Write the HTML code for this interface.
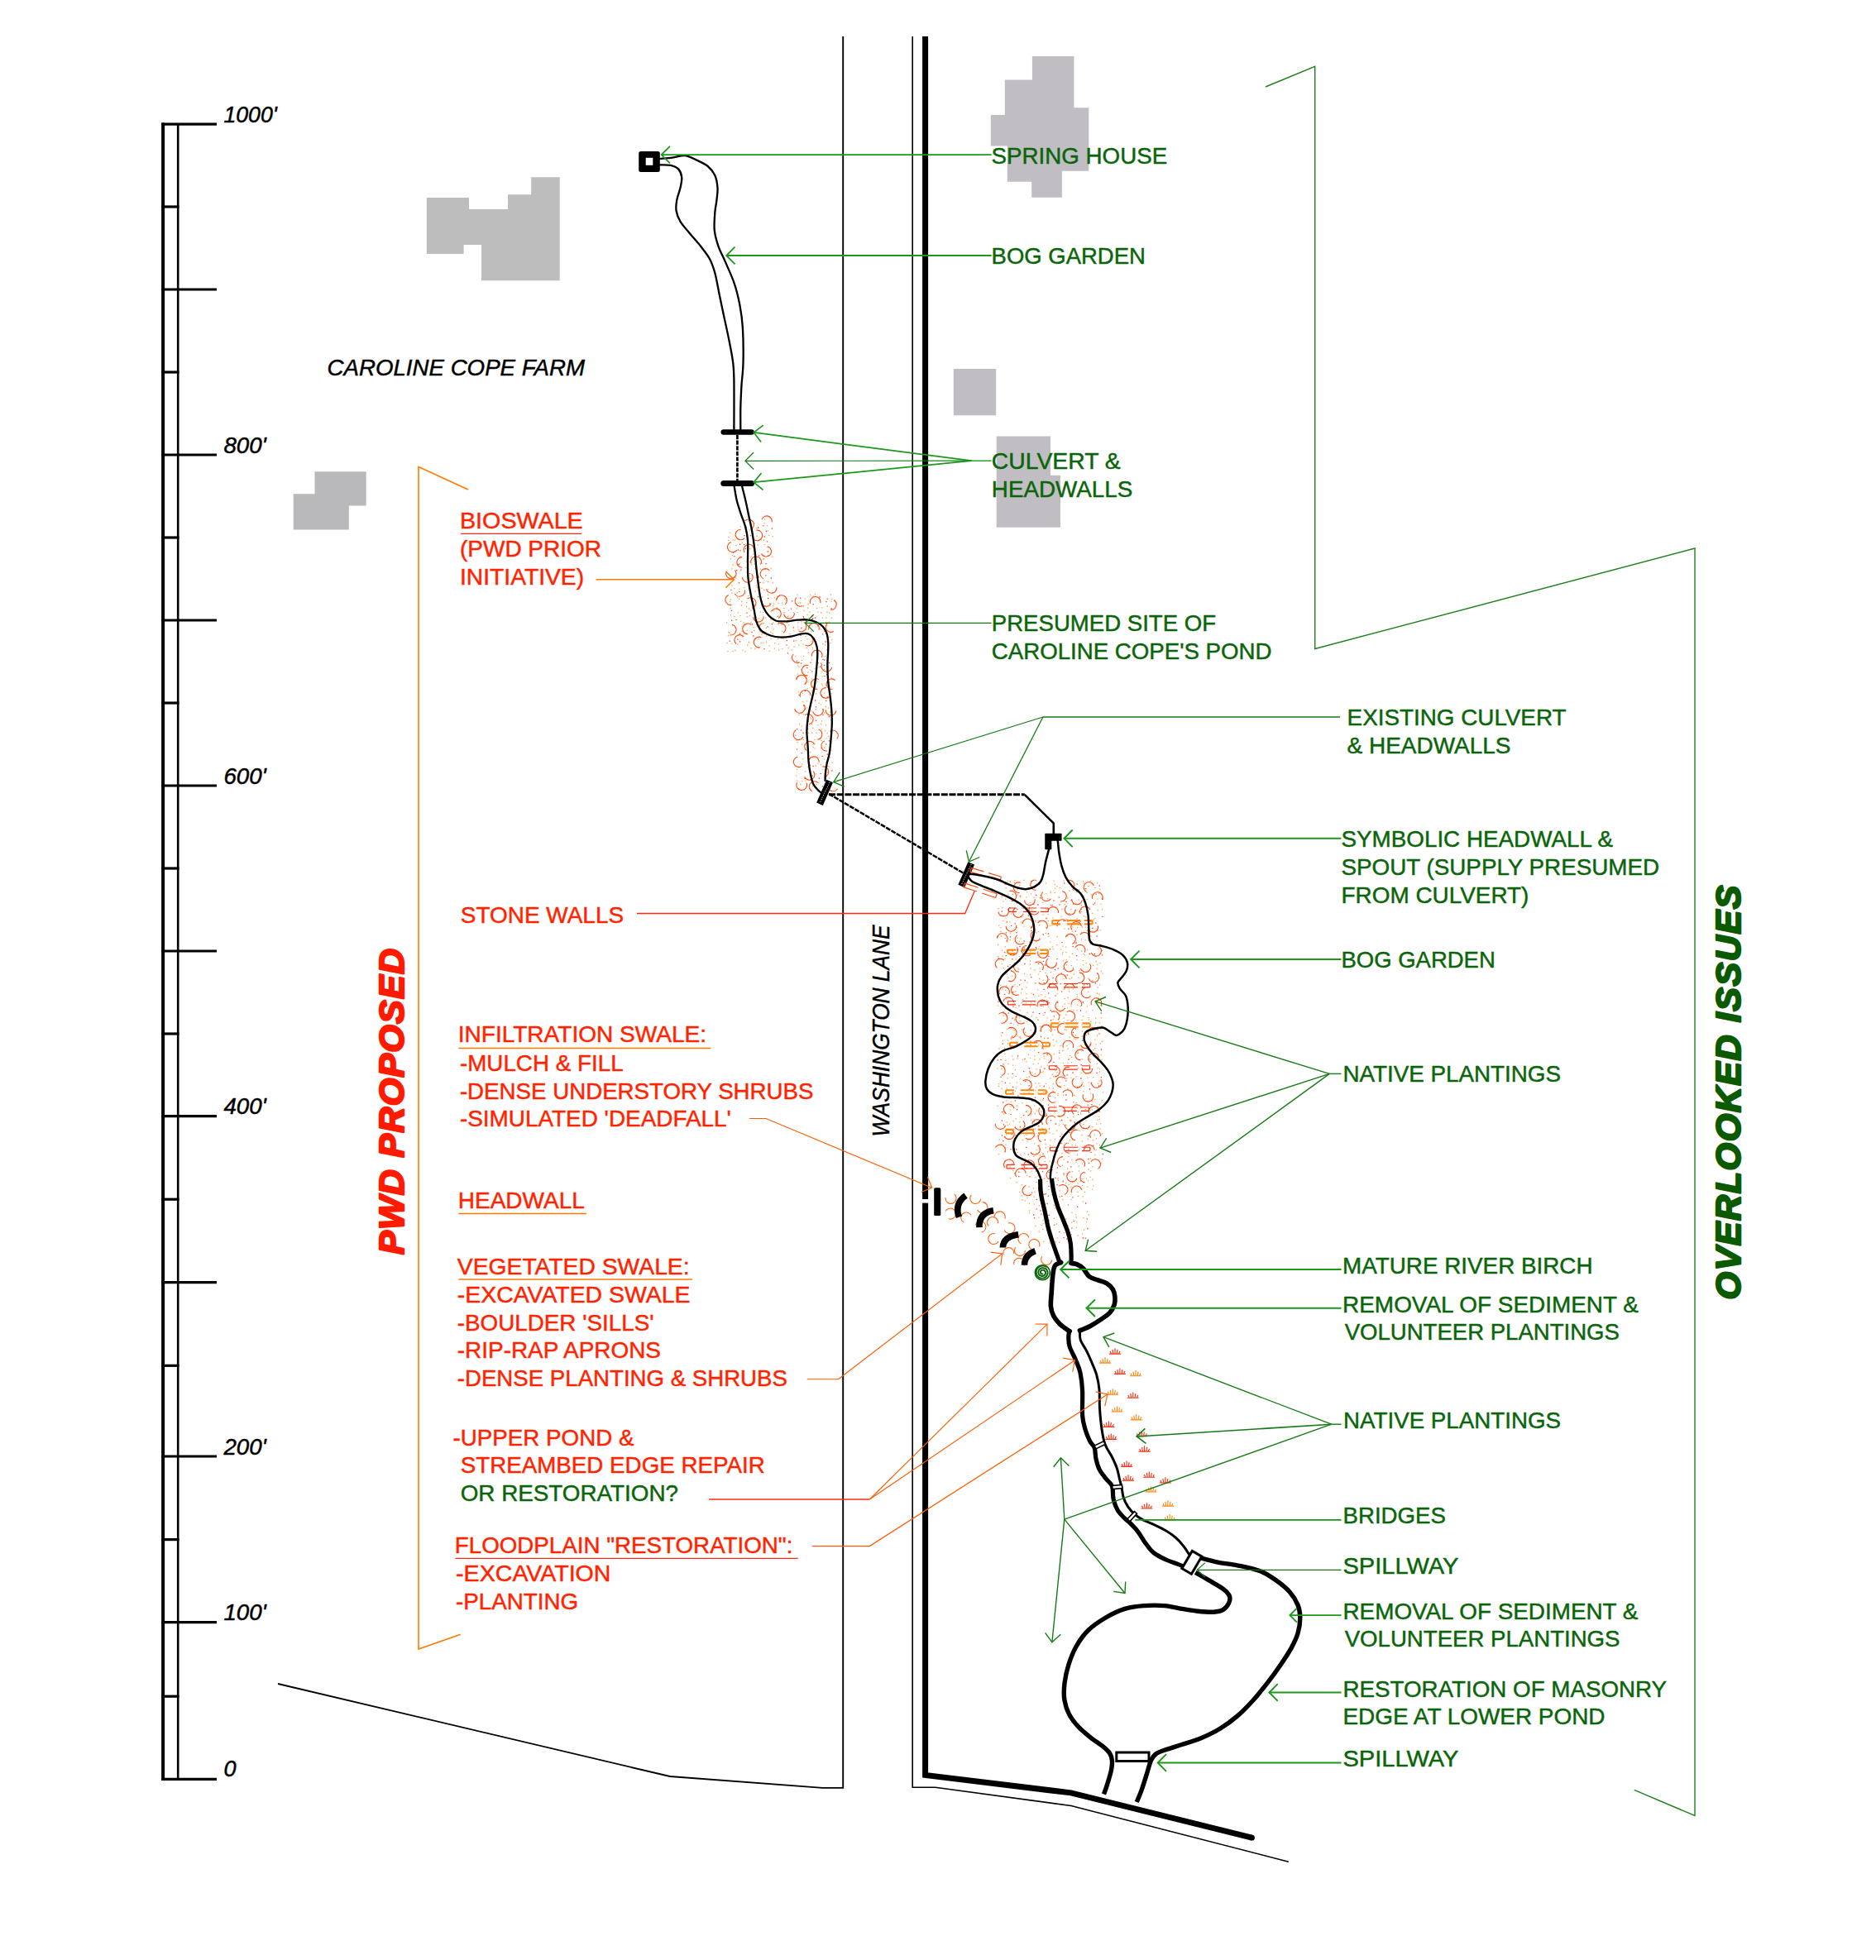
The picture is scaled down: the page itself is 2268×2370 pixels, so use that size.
<!DOCTYPE html>
<html><head><meta charset="utf-8"><title>Plan</title>
<style>html,body{margin:0;padding:0;background:#fff}svg{display:block}text{font-family:"Liberation Sans",sans-serif}</style>
</head><body>
<svg width="2268" height="2370" viewBox="0 0 2268 2370">
<rect width="2268" height="2370" fill="#fff"/>
<polygon points="1247.9,67.9 1298.4,67.9 1298.4,130.2 1316.3,130.2 1316.3,206.7 1283.9,206.7 1283.9,238.7 1247.2,238.7 1247.2,219.7 1217.8,219.7 1217.8,176.4 1197.8,176.4 1197.8,138.9 1214.8,138.9 1214.8,96.5 1247.9,96.5" fill="#c1bec3"/>
<polygon points="1152.8,446.1 1204.2,446.1 1204.2,502.3 1152.8,502.3" fill="#c1bec3"/>
<polygon points="1204.7,527.4 1270.0,527.4 1270.0,574.8 1282.0,574.8 1282.0,637.7 1204.7,637.7" fill="#c1bec3"/>
<polygon points="515.8,239.1 567.0,239.1 567.0,252.9 614.0,252.9 614.0,235.3 642.2,235.3 642.2,214.2 676.7,214.2 676.7,339.2 582.0,339.2 582.0,296.1 560.6,296.1 560.6,306.9 515.8,306.9" fill="#bdbdbd"/>
<polygon points="380.5,570.2 442.7,570.2 442.7,611.6 421.8,611.6 421.8,640.5 354.7,640.5 354.7,597.3 380.5,597.3" fill="#b9b9bb"/>
<!--HATCH-->
<!--REST-->
<path d="M924.2,628.1h1.3M911.3,632.6h1.3M923.5,632.5h1.3M894.7,636.8h1.3M901.7,637.5h1.3M914.0,638.8h1.3M926.9,635.7h1.3M882.1,644.4h1.3M902.3,644.3h1.3M905.8,640.8h1.3M927.8,641.7h1.3M880.3,649.6h1.3M914.2,648.1h1.3M929.0,647.3h1.3M933.4,648.7h1.3M880.1,653.3h1.3M885.3,652.8h1.3M887.3,653.3h1.3M896.5,656.4h1.3M919.5,652.9h1.3M922.8,653.0h1.3M881.7,661.9h1.3M889.2,659.4h1.3M911.2,660.2h1.3M915.6,659.0h1.3M923.8,658.7h1.3M927.4,661.7h1.3M906.0,663.7h1.3M910.9,666.3h1.3M884.9,671.6h1.3M894.0,672.7h1.3M903.1,671.6h1.3M907.4,672.9h1.3M910.2,669.9h1.3M922.5,672.4h1.3M928.3,671.7h1.3M933.2,673.5h1.3M882.7,675.6h1.3M901.8,679.2h1.3M906.0,679.7h1.3M885.6,683.0h1.3M907.7,682.6h1.3M911.6,682.2h1.3M920.1,681.2h1.3M884.4,687.8h1.3M901.3,686.4h1.3M912.1,687.4h1.3M918.9,687.8h1.3M924.4,688.3h1.3M931.3,687.4h1.3M902.0,692.2h1.3M916.1,696.6h1.3M888.9,698.9h1.3M907.0,699.3h1.3M913.6,698.1h1.3M916.7,698.0h1.3M884.4,708.2h1.3M905.9,707.6h1.3M913.5,707.9h1.3M922.2,704.6h1.3M927.9,703.5h1.3M933.5,704.9h1.3M887.1,711.7h1.3M893.1,712.1h1.3M899.1,710.5h1.3M914.4,710.0h1.3M920.2,711.4h1.3M923.1,713.4h1.3M927.7,712.9h1.3M884.3,717.1h1.3M890.7,717.0h1.3M900.5,717.2h1.3M912.3,715.1h1.3M927.8,719.5h1.3M942.1,719.3h1.3M963.5,719.2h1.3M979.0,719.3h1.3M984.7,718.6h1.3M1003.8,719.0h1.3M882.6,725.3h1.3M890.7,722.6h1.3M892.9,724.4h1.3M903.1,723.3h1.3M904.1,720.7h1.3M921.2,722.2h1.3M935.6,722.8h1.3M939.5,721.2h1.3M948.2,724.3h1.3M949.8,723.6h1.3M972.8,724.2h1.3M982.7,721.2h1.3M1005.1,724.1h1.3M881.8,727.3h1.3M896.1,727.5h1.3M902.2,728.7h1.3M909.9,727.4h1.3M920.0,729.8h1.3M929.9,729.5h1.3M934.9,730.2h1.3M940.4,729.7h1.3M945.0,729.2h1.3M950.4,726.3h1.3M964.4,729.2h1.3M967.1,729.0h1.3M976.4,730.5h1.3M1004.6,727.2h1.3M882.7,735.3h1.3M895.7,732.0h1.3M902.1,733.6h1.3M905.1,736.0h1.3M910.6,731.9h1.3M920.2,731.9h1.3M925.0,732.8h1.3M934.0,732.9h1.3M938.8,735.0h1.3M947.3,735.7h1.3M962.4,736.2h1.3M971.0,733.0h1.3M976.1,735.5h1.3M987.1,735.5h1.3M993.3,734.7h1.3M999.5,733.0h1.3M891.7,741.1h1.3M907.2,738.1h1.3M918.8,740.0h1.3M921.9,740.5h1.3M931.3,739.7h1.3M934.6,738.7h1.3M947.3,740.7h1.3M952.7,738.1h1.3M958.8,740.6h1.3M963.3,740.6h1.3M971.3,738.5h1.3M978.4,740.2h1.3M988.4,740.1h1.3M992.2,741.0h1.3M999.3,740.1h1.3M1002.0,740.9h1.3M883.0,743.6h1.3M887.1,745.3h1.3M894.4,744.6h1.3M902.9,745.8h1.3M906.0,744.3h1.3M913.7,746.3h1.3M916.6,747.9h1.3M925.1,747.2h1.3M934.3,747.4h1.3M947.5,744.6h1.3M952.0,745.4h1.3M975.5,743.4h1.3M993.9,747.1h1.3M998.2,747.1h1.3M1004.8,747.3h1.3M878.1,752.6h1.3M895.1,751.4h1.3M898.4,753.0h1.3M907.3,753.0h1.3M914.4,749.4h1.3M915.6,751.9h1.3M922.8,753.7h1.3M931.2,749.2h1.3M934.2,753.1h1.3M940.8,752.7h1.3M951.1,753.0h1.3M964.2,752.8h1.3M968.2,751.8h1.3M984.8,753.4h1.3M993.4,753.4h1.3M998.3,752.3h1.3M1002.0,752.2h1.3M896.5,757.4h1.3M900.4,756.2h1.3M910.4,758.6h1.3M917.6,754.8h1.3M925.7,759.4h1.3M953.2,755.6h1.3M964.1,758.1h1.3M988.0,757.0h1.3M999.1,756.4h1.3M880.1,764.2h1.3M881.6,765.1h1.3M896.7,763.3h1.3M902.7,762.2h1.3M911.1,762.4h1.3M925.1,764.6h1.3M931.0,764.3h1.3M934.3,760.8h1.3M945.1,763.3h1.3M959.2,762.6h1.3M964.8,761.5h1.3M971.0,762.9h1.3M973.4,761.3h1.3M979.9,763.1h1.3M991.4,760.9h1.3M996.0,763.3h1.3M879.8,768.4h1.3M898.8,766.3h1.3M920.1,767.3h1.3M925.8,769.3h1.3M933.7,766.3h1.3M944.2,769.9h1.3M954.4,766.4h1.3M959.9,769.3h1.3M964.7,766.6h1.3M973.2,769.4h1.3M999.8,770.1h1.3M1002.6,770.1h1.3M904.6,776.5h1.3M913.0,772.8h1.3M916.7,772.8h1.3M926.0,776.2h1.3M931.2,772.1h1.3M939.9,772.5h1.3M946.5,772.7h1.3M961.5,774.7h1.3M967.8,774.7h1.3M975.3,772.8h1.3M980.2,775.3h1.3M1005.0,773.6h1.3M878.5,777.5h1.3M883.8,778.1h1.3M891.2,779.0h1.3M903.0,779.9h1.3M910.9,778.4h1.3M919.4,777.6h1.3M922.1,777.6h1.3M929.4,780.9h1.3M936.0,777.7h1.3M940.7,778.8h1.3M959.4,782.0h1.3M965.1,780.0h1.3M970.5,779.1h1.3M994.1,778.7h1.3M997.0,780.0h1.3M1003.4,777.6h1.3M879.3,787.7h1.3M885.5,787.4h1.3M888.3,786.5h1.3M897.1,786.2h1.3M900.5,787.8h1.3M907.2,783.8h1.3M912.3,784.5h1.3M916.2,783.8h1.3M929.5,787.2h1.3M935.7,784.2h1.3M940.9,786.1h1.3M945.2,784.3h1.3M952.5,783.3h1.3M956.5,785.9h1.3M974.6,783.5h1.3M981.7,783.7h1.3M987.4,783.9h1.3M999.2,785.7h1.3M961.5,793.3h1.3M970.8,793.5h1.3M976.9,789.0h1.3M986.5,793.7h1.3M992.9,790.8h1.3M997.0,793.4h1.3M1001.5,790.7h1.3M968.8,798.4h1.3M981.0,797.8h1.3M986.6,795.9h1.3M964.0,804.9h1.3M974.0,804.5h1.3M965.3,806.6h1.3M968.1,809.7h1.3M979.0,810.1h1.3M984.4,808.7h1.3M995.9,809.4h1.3M963.8,815.1h1.3M970.1,813.4h1.3M976.2,813.1h1.3M993.2,812.1h1.3M962.3,819.9h1.3M973.2,820.1h1.3M980.8,821.1h1.3M993.6,817.9h1.3M1004.4,819.6h1.3M976.1,824.7h1.3M979.7,824.9h1.3M987.9,824.2h1.3M992.6,827.0h1.3M1002.4,825.9h1.3M975.5,832.7h1.3M981.1,830.2h1.3M986.2,831.9h1.3M993.8,828.9h1.3M997.4,829.2h1.3M1003.8,830.8h1.3M965.1,836.4h1.3M969.5,838.2h1.3M981.1,835.5h1.3M985.9,838.8h1.3M996.1,838.1h1.3M1004.3,838.5h1.3M1002.7,842.4h1.3M970.3,848.3h1.3M975.1,847.8h1.3M979.8,850.6h1.3M989.6,850.1h1.3M1002.4,847.4h1.3M975.1,855.8h1.3M979.2,853.2h1.3M991.6,851.8h1.3M997.7,854.5h1.3M1001.1,856.0h1.3M961.1,859.6h1.3M968.5,862.0h1.3M980.6,860.0h1.3M985.7,858.0h1.3M994.0,858.1h1.3M996.5,862.0h1.3M1002.7,861.1h1.3M965.0,864.4h1.3M971.1,863.8h1.3M979.2,867.2h1.3M979.5,869.0h1.3M992.9,871.8h1.3M1004.4,870.6h1.3M965.9,875.5h1.3M968.6,877.8h1.3M975.4,877.7h1.3M980.8,875.5h1.3M988.3,876.7h1.3M991.9,875.5h1.3M997.8,876.9h1.3M982.2,880.5h1.3M992.6,881.9h1.3M997.1,883.5h1.3M1004.1,884.0h1.3M961.3,889.1h1.3M976.4,886.3h1.3M980.9,886.1h1.3M986.2,886.1h1.3M999.5,886.5h1.3M1001.0,890.5h1.3M962.4,895.3h1.3M970.7,894.3h1.3M974.6,895.7h1.3M984.2,894.4h1.3M992.3,895.3h1.3M998.5,892.9h1.3M963.7,897.6h1.3M968.9,900.5h1.3M982.7,899.7h1.3M982.4,903.5h1.3M984.5,905.1h1.3M992.0,904.7h1.3M996.3,903.5h1.3M1003.4,907.2h1.3M976.0,911.9h1.3M978.9,909.6h1.3M963.3,915.4h1.3M970.1,917.7h1.3M982.2,916.2h1.3M987.9,915.9h1.3M995.8,918.2h1.3M1003.2,915.9h1.3M969.0,923.9h1.3M988.2,923.2h1.3M991.7,924.6h1.3M998.3,921.8h1.3M1005.4,922.4h1.3M962.9,930.3h1.3M968.1,926.5h1.3M976.3,927.4h1.3M985.4,926.0h1.3M994.2,930.3h1.3M999.8,926.6h1.3M1001.5,926.9h1.3M973.0,932.9h1.3M985.8,935.9h1.3M999.5,934.0h1.3M962.1,938.2h1.3M971.5,941.0h1.3M998.3,938.7h1.3M1002.0,940.9h1.3M963.0,944.2h1.3M969.3,944.9h1.3M973.4,944.1h1.3M998.8,945.8h1.3M967.4,948.6h1.3M982.0,950.7h1.3M986.5,948.8h1.3M1003.8,949.1h1.3M971.3,955.3h1.3M979.5,954.9h1.3M996.1,956.7h1.3" stroke="#ffa040" stroke-width="1.3" fill="none"/>
<path d="M916.0,638.0h1.3M922.2,635.8h1.3M932.7,639.2h1.3M925.8,642.5h1.3M899.4,647.6h1.3M906.9,647.6h1.3M923.6,649.0h1.3M927.0,654.8h1.3M894.0,658.4h1.3M898.9,658.6h1.3M885.9,668.2h1.3M891.6,665.0h1.3M894.5,665.8h1.3M900.8,663.5h1.3M927.6,667.0h1.3M887.3,672.7h1.3M917.0,671.9h1.3M911.9,676.2h1.3M922.4,676.2h1.3M891.8,682.8h1.3M893.1,682.2h1.3M925.3,681.6h1.3M890.1,689.7h1.3M895.2,689.1h1.3M905.9,693.6h1.3M925.1,695.9h1.3M931.6,699.0h1.3M892.9,704.8h1.3M918.5,704.4h1.3M883.2,713.3h1.3M893.2,715.4h1.3M916.1,721.6h1.3M928.0,723.3h1.3M967.0,723.1h1.3M990.4,722.0h1.3M999.6,724.3h1.3M957.1,726.9h1.3M982.6,730.7h1.3M998.3,727.6h1.3M955.8,736.2h1.3M1004.4,735.9h1.3M883.8,738.4h1.3M902.2,741.1h1.3M939.5,745.3h1.3M981.3,744.5h1.3M985.0,747.0h1.3M884.0,750.3h1.3M889.4,749.3h1.3M980.8,749.2h1.3M908.6,755.0h1.3M927.4,757.8h1.3M932.7,754.7h1.3M944.6,754.8h1.3M958.8,758.8h1.3M968.0,759.3h1.3M978.6,756.2h1.3M992.4,756.8h1.3M908.4,764.3h1.3M893.9,766.3h1.3M910.1,769.0h1.3M967.4,768.4h1.3M993.9,766.8h1.3M881.6,775.2h1.3M891.2,773.1h1.3M894.0,775.8h1.3M950.7,774.5h1.3M959.1,775.2h1.3M997.6,776.0h1.3M950.4,780.2h1.3M923.2,784.6h1.3M951.8,789.8h1.3M962.8,799.4h1.3M994.4,797.4h1.3M996.1,798.2h1.3M968.0,802.2h1.3M979.4,801.1h1.3M988.6,801.7h1.3M992.2,802.2h1.3M995.9,804.3h1.3M1001.9,801.7h1.3M975.2,807.5h1.3M991.0,806.3h1.3M981.1,811.9h1.3M998.9,815.7h1.3M996.3,817.7h1.3M999.8,825.5h1.3M972.8,835.6h1.3M965.7,840.3h1.3M981.5,842.1h1.3M992.5,840.6h1.3M999.6,843.0h1.3M985.1,847.0h1.3M998.0,847.4h1.3M971.0,853.2h1.3M985.8,854.9h1.3M972.9,857.4h1.3M994.4,864.4h1.3M1001.7,866.5h1.3M976.7,872.2h1.3M985.9,871.4h1.3M962.9,881.7h1.3M967.8,882.8h1.3M975.9,881.4h1.3M970.5,886.4h1.3M1001.7,895.9h1.3M998.2,899.8h1.3M962.9,906.1h1.3M976.7,905.2h1.3M968.8,910.6h1.3M999.7,912.2h1.3M993.4,914.3h1.3M982.4,926.5h1.3M991.5,935.3h1.3M1005.3,932.0h1.3M972.8,941.1h1.3M981.2,937.8h1.3M989.8,941.1h1.3M988.3,946.3h1.3M993.8,950.8h1.3M996.5,952.8h1.3M965.0,954.4h1.3" stroke="#ff3a10" stroke-width="1.3" fill="none"/>
<path d="M900.5,629.9A6.3,6.3 0 1 1 907.7,640.0M921.1,628.0A6.3,6.3 0 0 1 933.2,631.3M900.3,650.6A6.3,6.3 0 1 1 895.8,640.2M914.5,641.2A6.3,6.3 0 1 1 911.6,652.5M890.7,665.4A6.3,6.3 0 1 1 883.9,655.4M900.1,667.9A6.3,6.3 0 1 1 911.6,663.3M928.0,660.7A6.3,6.3 0 1 1 920.5,669.5M897.1,686.2A6.3,6.3 0 0 1 897.2,673.6M908.2,681.4A6.3,6.3 0 1 1 919.4,682.6M888.5,689.3A6.3,6.3 0 1 1 877.5,692.5M908.6,693.9A6.3,6.3 0 1 1 897.5,698.0M923.0,699.7A6.3,6.3 0 1 1 930.2,689.7M900.2,713.5A6.3,6.3 0 0 1 888.5,717.9M938.9,710.4A6.3,6.3 0 0 1 926.5,712.4M884.4,731.5A6.3,6.3 0 0 1 880.8,719.5M904.1,723.9A6.3,6.3 0 1 1 908.8,735.3M932.2,729.6A6.3,6.3 0 0 1 920.2,727.1M938.7,726.3A6.3,6.3 0 1 1 949.0,730.9M970.2,732.5A6.3,6.3 0 0 1 963.1,722.3M979.7,729.8A6.3,6.3 0 1 1 991.8,729.1M1008.0,725.4A6.3,6.3 0 0 1 1004.1,737.1M923.2,745.6A6.3,6.3 0 0 1 910.6,746.0M932.6,738.9A6.3,6.3 0 1 1 941.2,747.6M960.4,741.4A6.3,6.3 0 1 1 947.8,742.2M983.2,747.1A6.3,6.3 0 0 1 971.2,744.7M885.0,755.4A6.3,6.3 0 0 1 882.5,767.8M904.1,766.7A6.3,6.3 0 1 1 907.9,755.4M925.0,765.7A6.3,6.3 0 0 1 921.9,753.6M940.1,754.6A6.3,6.3 0 1 1 946.9,765.2M971.8,752.1A6.3,6.3 0 0 1 965.9,763.2M977.9,761.4A6.3,6.3 0 1 1 990.0,761.7M1007.8,763.5A6.3,6.3 0 0 1 1001.3,752.7M890.1,778.7A6.3,6.3 0 1 1 899.2,770.1M918.8,782.7A6.3,6.3 0 1 1 920.3,770.8M980.9,769.9A6.3,6.3 0 0 1 973.3,779.9M966.7,800.8A6.3,6.3 0 0 1 959.2,791.0M981.5,793.5A6.3,6.3 0 1 1 993.5,794.8M976.7,816.8A6.3,6.3 0 1 1 977.3,804.5M1005.6,807.1A6.3,6.3 0 1 1 993.7,803.2M962.7,822.1A6.3,6.3 0 1 1 972.6,827.7M988.1,833.3A6.3,6.3 0 1 1 989.9,821.6M1006.4,833.4A6.3,6.3 0 1 1 1009.8,822.6M967.5,842.6A6.3,6.3 0 1 1 979.8,841.2M1002.9,842.3A6.3,6.3 0 1 1 998.9,831.7M971.6,851.8A6.3,6.3 0 1 1 960.7,857.2M994.8,856.7A6.3,6.3 0 1 1 982.8,860.4M1010.9,859.3A6.3,6.3 0 0 1 998.3,858.2M973.2,864.6A6.3,6.3 0 1 1 977.9,876.0M971.1,891.1A6.3,6.3 0 1 1 962.4,882.8M989.5,882.0A6.3,6.3 0 0 1 988.3,894.2M1003.4,884.2A6.3,6.3 0 0 1 1011.8,893.4M974.9,907.4A6.3,6.3 0 1 1 984.8,900.1M1000.0,908.0A6.3,6.3 0 0 1 996.9,895.9M968.3,927.0A6.3,6.3 0 1 1 964.0,915.2M979.6,925.8A6.3,6.3 0 1 1 990.2,921.7M982.9,932.3A6.3,6.3 0 1 1 972.7,939.2M994.3,927.0A6.3,6.3 0 0 1 996.6,939.4M975.0,946.7A6.3,6.3 0 1 1 963.7,946.2M982.0,956.8A6.3,6.3 0 1 1 988.2,945.9M1012.6,953.8A6.3,6.3 0 0 1 1001.2,948.7" stroke="#ff4a10" stroke-width="1.1" fill="none"/>
<path d="M1217.8,1065.1h1.3M1226.1,1064.9h1.3M1237.3,1064.4h1.3M1273.6,1065.1h1.3M1285.5,1064.9h1.3M1308.9,1065.6h1.3M1318.1,1065.1h1.3M1214.6,1069.7h1.3M1225.9,1067.6h1.3M1232.3,1070.5h1.3M1252.7,1070.3h1.3M1257.0,1068.6h1.3M1264.0,1067.9h1.3M1274.7,1069.4h1.3M1277.2,1071.9h1.3M1309.9,1067.9h1.3M1315.2,1071.6h1.3M1319.5,1068.7h1.3M1325.8,1067.9h1.3M1215.5,1073.8h1.3M1229.5,1075.8h1.3M1243.8,1074.8h1.3M1250.0,1073.5h1.3M1269.2,1077.8h1.3M1274.9,1074.2h1.3M1280.7,1073.6h1.3M1292.2,1077.2h1.3M1303.7,1075.6h1.3M1323.4,1073.3h1.3M1329.0,1075.2h1.3M1207.2,1080.2h1.3M1210.6,1083.0h1.3M1218.2,1081.5h1.3M1223.7,1081.2h1.3M1229.6,1081.9h1.3M1241.2,1078.9h1.3M1245.9,1080.8h1.3M1257.5,1082.5h1.3M1264.4,1080.8h1.3M1269.8,1079.7h1.3M1274.5,1079.6h1.3M1289.0,1083.1h1.3M1300.5,1078.8h1.3M1309.5,1083.3h1.3M1313.6,1079.4h1.3M1318.6,1081.6h1.3M1328.0,1080.3h1.3M1210.8,1085.2h1.3M1215.0,1087.2h1.3M1223.1,1087.8h1.3M1233.2,1084.8h1.3M1240.1,1085.1h1.3M1249.4,1085.4h1.3M1260.0,1085.3h1.3M1266.2,1086.7h1.3M1285.8,1089.0h1.3M1290.1,1086.1h1.3M1303.6,1087.9h1.3M1309.6,1086.3h1.3M1313.6,1087.6h1.3M1326.1,1087.2h1.3M1212.1,1090.2h1.3M1228.5,1092.4h1.3M1234.0,1093.9h1.3M1245.1,1091.4h1.3M1259.9,1091.4h1.3M1269.7,1094.6h1.3M1286.6,1093.7h1.3M1300.4,1093.0h1.3M1306.9,1094.8h1.3M1330.5,1093.4h1.3M1206.4,1098.6h1.3M1211.2,1097.4h1.3M1234.9,1097.8h1.3M1247.1,1100.3h1.3M1264.4,1099.1h1.3M1266.6,1098.7h1.3M1283.1,1099.5h1.3M1294.2,1099.5h1.3M1300.0,1100.0h1.3M1313.3,1099.3h1.3M1326.8,1100.6h1.3M1331.9,1099.4h1.3M1222.3,1105.1h1.3M1231.3,1103.8h1.3M1241.1,1101.7h1.3M1245.9,1105.0h1.3M1254.5,1102.4h1.3M1260.4,1106.0h1.3M1266.5,1105.9h1.3M1303.9,1102.3h1.3M1307.1,1102.3h1.3M1313.3,1102.8h1.3M1320.3,1104.3h1.3M1215.4,1110.2h1.3M1234.3,1108.9h1.3M1272.5,1109.9h1.3M1282.5,1108.2h1.3M1288.6,1111.7h1.3M1301.4,1110.5h1.3M1309.9,1107.7h1.3M1311.6,1108.9h1.3M1321.4,1112.0h1.3M1323.1,1110.7h1.3M1212.1,1113.7h1.3M1220.0,1114.9h1.3M1233.4,1114.8h1.3M1255.5,1113.3h1.3M1266.5,1113.6h1.3M1290.5,1114.5h1.3M1297.2,1115.4h1.3M1301.6,1116.1h1.3M1207.0,1119.1h1.3M1209.2,1121.8h1.3M1228.7,1121.9h1.3M1237.3,1120.1h1.3M1246.0,1120.3h1.3M1256.0,1118.6h1.3M1263.8,1121.7h1.3M1268.7,1119.2h1.3M1271.0,1118.8h1.3M1286.2,1122.8h1.3M1296.3,1120.9h1.3M1302.0,1121.4h1.3M1307.6,1121.0h1.3M1311.8,1121.2h1.3M1326.7,1121.1h1.3M1209.3,1126.5h1.3M1220.8,1128.1h1.3M1252.0,1127.8h1.3M1255.2,1126.6h1.3M1263.7,1128.5h1.3M1295.9,1126.2h1.3M1307.0,1128.0h1.3M1313.9,1125.2h1.3M1319.5,1125.7h1.3M1326.7,1125.4h1.3M1329.5,1124.5h1.3M1209.8,1132.0h1.3M1214.6,1134.7h1.3M1229.2,1133.9h1.3M1233.4,1134.7h1.3M1246.5,1132.6h1.3M1256.0,1134.8h1.3M1267.1,1132.1h1.3M1277.5,1132.5h1.3M1289.8,1131.6h1.3M1301.3,1130.5h1.3M1318.3,1131.9h1.3M1217.3,1138.9h1.3M1220.6,1136.5h1.3M1226.6,1138.8h1.3M1231.9,1138.1h1.3M1244.0,1139.0h1.3M1251.9,1138.4h1.3M1269.2,1138.8h1.3M1306.8,1136.0h1.3M1311.5,1136.5h1.3M1206.1,1142.5h1.3M1214.7,1144.8h1.3M1237.8,1146.0h1.3M1255.6,1144.9h1.3M1271.9,1144.9h1.3M1277.2,1142.7h1.3M1284.2,1144.2h1.3M1288.1,1145.2h1.3M1317.5,1141.9h1.3M1329.9,1142.1h1.3M1210.9,1149.2h1.3M1233.8,1150.2h1.3M1245.1,1150.6h1.3M1255.1,1147.5h1.3M1261.0,1149.3h1.3M1272.6,1147.6h1.3M1281.5,1148.1h1.3M1284.4,1151.6h1.3M1288.4,1151.6h1.3M1301.8,1148.0h1.3M1307.2,1150.3h1.3M1313.7,1148.3h1.3M1327.0,1147.2h1.3M1332.0,1149.4h1.3M1206.0,1156.3h1.3M1211.5,1156.0h1.3M1231.7,1156.3h1.3M1255.7,1154.9h1.3M1283.7,1153.5h1.3M1292.6,1157.1h1.3M1295.8,1153.0h1.3M1309.6,1153.3h1.3M1311.0,1154.6h1.3M1212.8,1160.5h1.3M1214.5,1158.8h1.3M1227.5,1159.9h1.3M1232.4,1161.6h1.3M1239.2,1159.6h1.3M1244.9,1162.0h1.3M1284.6,1161.9h1.3M1288.6,1160.8h1.3M1301.4,1160.5h1.3M1308.8,1161.6h1.3M1324.5,1162.5h1.3M1210.6,1165.7h1.3M1220.4,1166.9h1.3M1244.6,1166.0h1.3M1266.7,1168.9h1.3M1288.8,1166.8h1.3M1294.7,1167.6h1.3M1309.1,1166.9h1.3M1312.7,1164.7h1.3M1321.1,1167.3h1.3M1326.0,1166.3h1.3M1329.5,1164.7h1.3M1212.6,1170.5h1.3M1230.1,1170.7h1.3M1231.2,1172.2h1.3M1245.3,1171.0h1.3M1250.1,1173.0h1.3M1256.8,1174.7h1.3M1259.7,1170.4h1.3M1285.0,1171.7h1.3M1296.7,1170.5h1.3M1304.2,1173.5h1.3M1314.9,1174.2h1.3M1325.3,1171.5h1.3M1330.7,1174.3h1.3M1217.0,1177.9h1.3M1223.1,1180.1h1.3M1237.9,1177.4h1.3M1245.0,1178.5h1.3M1255.1,1178.1h1.3M1263.5,1176.4h1.3M1269.8,1175.7h1.3M1297.6,1178.0h1.3M1309.1,1176.7h1.3M1332.4,1177.1h1.3M1206.7,1184.0h1.3M1218.3,1182.5h1.3M1226.9,1181.8h1.3M1255.9,1183.5h1.3M1260.8,1185.1h1.3M1267.9,1184.7h1.3M1285.5,1183.6h1.3M1292.6,1183.5h1.3M1295.0,1182.5h1.3M1303.2,1182.1h1.3M1315.2,1183.1h1.3M1320.2,1185.7h1.3M1324.8,1182.7h1.3M1209.0,1191.4h1.3M1216.0,1191.8h1.3M1226.4,1190.6h1.3M1241.5,1188.1h1.3M1256.4,1189.8h1.3M1269.8,1189.8h1.3M1272.2,1188.5h1.3M1299.8,1190.2h1.3M1318.9,1187.2h1.3M1328.9,1190.9h1.3M1211.2,1195.8h1.3M1214.9,1197.4h1.3M1229.4,1192.8h1.3M1240.2,1194.1h1.3M1253.9,1196.9h1.3M1277.7,1195.0h1.3M1285.6,1196.4h1.3M1291.6,1195.9h1.3M1296.7,1196.2h1.3M1301.1,1193.2h1.3M1314.5,1193.4h1.3M1326.8,1194.1h1.3M1207.2,1198.5h1.3M1227.2,1199.0h1.3M1233.9,1200.5h1.3M1240.5,1201.9h1.3M1246.3,1201.1h1.3M1258.3,1202.7h1.3M1277.6,1201.8h1.3M1291.9,1198.9h1.3M1301.8,1202.9h1.3M1315.2,1199.4h1.3M1325.9,1201.3h1.3M1328.5,1202.2h1.3M1208.5,1208.6h1.3M1216.3,1208.0h1.3M1219.8,1206.4h1.3M1235.6,1208.7h1.3M1240.3,1207.0h1.3M1255.2,1204.3h1.3M1263.2,1205.1h1.3M1268.5,1206.9h1.3M1286.4,1207.6h1.3M1290.5,1206.5h1.3M1301.5,1205.4h1.3M1317.6,1204.2h1.3M1322.9,1206.1h1.3M1330.3,1208.3h1.3M1225.9,1213.3h1.3M1234.8,1212.3h1.3M1239.9,1212.9h1.3M1246.1,1212.5h1.3M1250.2,1211.9h1.3M1255.8,1211.8h1.3M1260.0,1209.9h1.3M1286.7,1213.8h1.3M1291.5,1213.6h1.3M1303.6,1210.3h1.3M1326.8,1212.8h1.3M1206.1,1216.1h1.3M1211.1,1217.1h1.3M1214.9,1219.0h1.3M1227.4,1218.5h1.3M1245.0,1216.7h1.3M1252.0,1216.2h1.3M1260.6,1217.1h1.3M1267.2,1217.8h1.3M1277.9,1220.2h1.3M1284.2,1216.8h1.3M1289.8,1218.9h1.3M1294.8,1216.3h1.3M1302.1,1215.5h1.3M1305.5,1216.7h1.3M1313.5,1217.1h1.3M1226.0,1224.3h1.3M1232.5,1221.7h1.3M1241.5,1224.3h1.3M1273.5,1223.5h1.3M1281.0,1223.4h1.3M1282.5,1222.7h1.3M1291.9,1221.8h1.3M1297.1,1221.7h1.3M1301.5,1221.9h1.3M1312.7,1223.8h1.3M1320.4,1221.6h1.3M1212.5,1228.4h1.3M1229.1,1230.2h1.3M1231.8,1230.9h1.3M1238.4,1228.4h1.3M1246.7,1228.6h1.3M1252.3,1230.5h1.3M1261.1,1227.3h1.3M1265.5,1230.8h1.3M1281.1,1227.4h1.3M1285.5,1230.8h1.3M1288.3,1227.0h1.3M1308.8,1228.8h1.3M1315.5,1230.7h1.3M1324.0,1231.1h1.3M1330.7,1230.8h1.3M1214.7,1234.2h1.3M1226.0,1233.0h1.3M1232.4,1234.7h1.3M1240.8,1235.3h1.3M1272.3,1232.9h1.3M1279.9,1235.3h1.3M1285.9,1235.9h1.3M1290.3,1234.0h1.3M1307.5,1233.4h1.3M1315.6,1233.1h1.3M1318.3,1235.5h1.3M1323.9,1237.0h1.3M1328.8,1237.2h1.3M1229.9,1239.6h1.3M1257.3,1241.4h1.3M1281.1,1240.9h1.3M1287.1,1241.8h1.3M1294.8,1242.4h1.3M1307.3,1239.2h1.3M1313.0,1238.3h1.3M1217.3,1244.5h1.3M1224.4,1245.6h1.3M1226.2,1245.9h1.3M1234.9,1244.9h1.3M1239.0,1248.4h1.3M1245.7,1245.8h1.3M1251.8,1246.3h1.3M1256.8,1246.0h1.3M1268.0,1245.6h1.3M1274.5,1245.2h1.3M1278.6,1248.5h1.3M1286.6,1245.0h1.3M1288.4,1245.5h1.3M1307.7,1247.0h1.3M1312.9,1248.6h1.3M1322.3,1245.2h1.3M1330.4,1244.2h1.3M1210.2,1252.2h1.3M1229.4,1252.9h1.3M1238.4,1251.4h1.3M1246.8,1253.6h1.3M1271.6,1251.3h1.3M1292.6,1254.3h1.3M1294.9,1251.3h1.3M1299.8,1251.8h1.3M1307.6,1253.1h1.3M1312.5,1251.7h1.3M1325.8,1252.5h1.3M1211.8,1258.4h1.3M1218.0,1258.4h1.3M1221.6,1256.7h1.3M1228.4,1259.9h1.3M1233.5,1255.7h1.3M1239.1,1259.8h1.3M1262.0,1255.4h1.3M1272.6,1257.4h1.3M1276.8,1259.4h1.3M1298.1,1256.0h1.3M1300.1,1256.9h1.3M1323.1,1257.1h1.3M1331.9,1259.4h1.3M1217.8,1262.0h1.3M1222.8,1264.2h1.3M1232.3,1261.8h1.3M1250.9,1264.0h1.3M1255.1,1263.9h1.3M1264.1,1263.0h1.3M1273.6,1264.5h1.3M1281.4,1264.7h1.3M1289.2,1264.5h1.3M1304.3,1264.9h1.3M1307.6,1265.6h1.3M1311.0,1263.4h1.3M1324.4,1262.8h1.3M1329.9,1261.7h1.3M1207.3,1268.2h1.3M1214.0,1267.4h1.3M1245.1,1269.6h1.3M1250.0,1269.9h1.3M1260.7,1268.1h1.3M1280.1,1270.6h1.3M1284.1,1270.7h1.3M1290.4,1268.0h1.3M1302.3,1270.9h1.3M1307.4,1267.3h1.3M1314.4,1269.2h1.3M1321.2,1269.7h1.3M1323.1,1268.0h1.3M1206.0,1275.1h1.3M1214.3,1274.4h1.3M1223.3,1276.8h1.3M1242.6,1275.4h1.3M1250.2,1276.9h1.3M1261.5,1277.2h1.3M1273.8,1274.6h1.3M1292.8,1276.6h1.3M1330.7,1275.4h1.3M1215.2,1282.0h1.3M1224.3,1281.0h1.3M1229.5,1280.0h1.3M1235.8,1281.3h1.3M1244.9,1279.7h1.3M1250.4,1281.2h1.3M1256.3,1280.8h1.3M1262.0,1279.9h1.3M1280.0,1279.8h1.3M1295.0,1278.4h1.3M1307.5,1280.7h1.3M1315.4,1280.5h1.3M1317.5,1281.2h1.3M1331.4,1281.1h1.3M1218.3,1286.5h1.3M1224.1,1288.1h1.3M1240.2,1283.9h1.3M1248.7,1286.7h1.3M1254.6,1286.1h1.3M1265.7,1288.1h1.3M1284.8,1285.5h1.3M1290.3,1285.2h1.3M1294.9,1284.7h1.3M1316.8,1287.3h1.3M1325.5,1286.4h1.3M1205.3,1292.1h1.3M1210.1,1292.3h1.3M1226.8,1293.5h1.3M1252.4,1292.9h1.3M1258.1,1289.9h1.3M1275.3,1294.3h1.3M1277.2,1291.3h1.3M1287.0,1293.3h1.3M1302.6,1291.5h1.3M1326.6,1291.3h1.3M1328.9,1292.6h1.3M1218.5,1298.7h1.3M1247.1,1297.0h1.3M1250.8,1298.3h1.3M1258.5,1296.6h1.3M1260.3,1296.0h1.3M1271.7,1299.5h1.3M1277.4,1296.5h1.3M1284.5,1297.3h1.3M1306.6,1297.4h1.3M1312.2,1298.5h1.3M1318.0,1297.5h1.3M1328.7,1296.2h1.3M1217.3,1303.8h1.3M1222.9,1303.1h1.3M1227.5,1301.4h1.3M1232.9,1304.1h1.3M1240.9,1302.8h1.3M1243.7,1302.0h1.3M1269.5,1304.0h1.3M1273.0,1301.7h1.3M1277.3,1305.2h1.3M1283.8,1303.8h1.3M1289.1,1304.1h1.3M1294.2,1303.3h1.3M1300.5,1301.9h1.3M1314.3,1303.4h1.3M1321.1,1302.9h1.3M1207.1,1310.7h1.3M1211.0,1307.7h1.3M1220.5,1309.8h1.3M1228.6,1309.2h1.3M1233.4,1310.8h1.3M1251.5,1309.7h1.3M1255.3,1310.0h1.3M1263.6,1310.4h1.3M1272.6,1310.6h1.3M1280.6,1308.9h1.3M1308.5,1308.7h1.3M1315.5,1309.1h1.3M1318.6,1310.0h1.3M1326.8,1310.4h1.3M1328.5,1307.1h1.3M1206.8,1313.3h1.3M1210.6,1316.5h1.3M1216.5,1315.9h1.3M1227.7,1315.8h1.3M1252.3,1314.9h1.3M1256.4,1313.2h1.3M1267.8,1315.5h1.3M1272.5,1316.0h1.3M1279.6,1313.3h1.3M1286.3,1312.7h1.3M1290.3,1316.6h1.3M1297.5,1313.7h1.3M1309.2,1313.2h1.3M1226.9,1319.2h1.3M1232.7,1321.8h1.3M1237.2,1322.2h1.3M1243.6,1321.4h1.3M1251.0,1318.8h1.3M1254.0,1321.1h1.3M1261.2,1320.4h1.3M1265.7,1320.5h1.3M1272.2,1319.1h1.3M1278.4,1322.3h1.3M1291.1,1318.6h1.3M1309.4,1319.6h1.3M1317.8,1321.9h1.3M1332.6,1320.9h1.3M1210.7,1324.8h1.3M1218.1,1327.1h1.3M1222.5,1327.0h1.3M1232.3,1327.8h1.3M1240.6,1328.0h1.3M1275.0,1327.6h1.3M1278.3,1324.4h1.3M1285.1,1324.4h1.3M1298.1,1324.4h1.3M1312.1,1328.4h1.3M1216.3,1330.8h1.3M1221.9,1332.1h1.3M1235.2,1333.9h1.3M1250.6,1329.6h1.3M1257.2,1330.2h1.3M1260.0,1330.1h1.3M1275.0,1332.6h1.3M1297.0,1332.7h1.3M1300.5,1333.7h1.3M1314.6,1332.0h1.3M1320.2,1332.1h1.3M1323.3,1329.5h1.3M1331.5,1330.5h1.3M1205.4,1337.4h1.3M1217.3,1335.8h1.3M1221.4,1337.6h1.3M1228.9,1337.0h1.3M1250.2,1336.9h1.3M1274.1,1337.2h1.3M1286.0,1339.4h1.3M1296.9,1337.8h1.3M1301.5,1339.9h1.3M1305.6,1339.9h1.3M1326.7,1339.0h1.3M1328.8,1335.9h1.3M1214.5,1344.4h1.3M1220.7,1342.2h1.3M1245.6,1344.2h1.3M1252.5,1342.6h1.3M1258.3,1344.0h1.3M1262.0,1341.1h1.3M1266.9,1342.8h1.3M1274.6,1345.2h1.3M1277.3,1343.4h1.3M1302.7,1344.5h1.3M1305.8,1345.7h1.3M1311.8,1341.3h1.3M1319.8,1342.1h1.3M1325.4,1345.3h1.3M1212.5,1347.0h1.3M1233.8,1351.2h1.3M1246.4,1347.1h1.3M1250.7,1346.7h1.3M1255.8,1347.0h1.3M1271.5,1349.2h1.3M1280.1,1349.5h1.3M1290.1,1351.3h1.3M1297.4,1350.5h1.3M1306.1,1347.4h1.3M1311.0,1350.8h1.3M1328.2,1350.3h1.3M1216.7,1357.0h1.3M1224.3,1355.5h1.3M1227.6,1352.9h1.3M1231.9,1356.6h1.3M1245.9,1354.5h1.3M1249.7,1356.3h1.3M1255.5,1354.3h1.3M1281.1,1355.3h1.3M1292.8,1354.1h1.3M1302.6,1356.7h1.3M1312.6,1354.8h1.3M1326.1,1354.7h1.3M1328.6,1353.4h1.3M1217.6,1360.5h1.3M1219.9,1358.9h1.3M1238.3,1362.1h1.3M1279.7,1360.9h1.3M1284.9,1359.5h1.3M1288.3,1360.3h1.3M1295.9,1362.0h1.3M1309.1,1359.6h1.3M1319.8,1362.6h1.3M1325.2,1359.1h1.3M1330.2,1358.6h1.3M1216.1,1365.9h1.3M1223.4,1367.9h1.3M1226.4,1363.7h1.3M1232.7,1368.5h1.3M1240.4,1367.8h1.3M1244.6,1365.0h1.3M1250.7,1365.1h1.3M1257.3,1367.0h1.3M1259.7,1364.3h1.3M1277.0,1366.8h1.3M1291.4,1368.1h1.3M1304.1,1367.3h1.3M1309.0,1364.0h1.3M1314.3,1365.3h1.3M1324.1,1366.2h1.3M1329.3,1365.1h1.3M1215.9,1372.1h1.3M1227.0,1372.5h1.3M1232.4,1372.1h1.3M1240.4,1372.4h1.3M1249.9,1373.5h1.3M1253.9,1373.4h1.3M1262.0,1371.2h1.3M1268.3,1369.7h1.3M1272.4,1370.8h1.3M1283.2,1371.5h1.3M1295.3,1370.0h1.3M1307.2,1372.5h1.3M1322.6,1372.4h1.3M1331.8,1370.9h1.3M1207.4,1378.1h1.3M1218.8,1377.2h1.3M1223.2,1379.8h1.3M1235.8,1378.7h1.3M1241.2,1379.7h1.3M1269.3,1378.8h1.3M1274.9,1377.5h1.3M1280.2,1378.6h1.3M1284.2,1378.3h1.3M1292.6,1378.8h1.3M1295.9,1378.0h1.3M1307.9,1379.9h1.3M1314.5,1377.1h1.3M1320.8,1378.6h1.3M1324.8,1376.8h1.3M1210.1,1383.7h1.3M1215.4,1384.1h1.3M1249.9,1382.8h1.3M1255.9,1384.9h1.3M1263.4,1383.5h1.3M1269.0,1385.0h1.3M1290.7,1382.4h1.3M1295.5,1384.4h1.3M1299.7,1384.8h1.3M1310.9,1385.4h1.3M1325.3,1382.8h1.3M1328.6,1384.9h1.3M1214.8,1387.9h1.3M1252.6,1390.1h1.3M1256.4,1389.6h1.3M1263.6,1387.9h1.3M1269.9,1388.2h1.3M1277.6,1388.8h1.3M1303.7,1390.3h1.3M1311.3,1388.4h1.3M1318.0,1388.8h1.3M1324.8,1390.3h1.3M1207.1,1395.7h1.3M1214.6,1392.7h1.3M1229.6,1393.7h1.3M1233.3,1396.1h1.3M1238.0,1394.6h1.3M1252.3,1394.9h1.3M1256.9,1396.6h1.3M1266.0,1393.0h1.3M1273.2,1392.3h1.3M1277.1,1392.5h1.3M1283.2,1394.4h1.3M1292.3,1393.8h1.3M1301.8,1396.5h1.3M1323.0,1396.7h1.3M1220.1,1401.7h1.3M1238.6,1401.2h1.3M1249.1,1398.4h1.3M1254.4,1402.0h1.3M1263.1,1400.0h1.3M1272.6,1398.0h1.3M1285.4,1401.8h1.3M1291.3,1398.4h1.3M1295.3,1402.4h1.3M1301.9,1402.4h1.3M1317.7,1401.0h1.3M1332.0,1401.5h1.3M1223.3,1406.9h1.3M1241.3,1406.9h1.3M1245.9,1405.4h1.3M1248.9,1405.9h1.3M1254.9,1408.1h1.3M1262.7,1404.6h1.3M1268.3,1404.5h1.3M1274.0,1404.8h1.3M1277.0,1405.9h1.3M1300.4,1405.1h1.3M1307.7,1407.2h1.3M1217.3,1410.2h1.3M1220.5,1411.0h1.3M1225.5,1412.6h1.3M1235.1,1409.8h1.3M1246.2,1412.7h1.3M1252.8,1410.5h1.3M1255.2,1413.6h1.3M1269.1,1411.1h1.3M1283.8,1409.5h1.3M1290.0,1413.1h1.3M1303.6,1410.0h1.3M1315.5,1413.9h1.3M1320.3,1410.6h1.3M1223.9,1415.4h1.3M1246.1,1416.2h1.3M1251.6,1416.4h1.3M1255.0,1417.1h1.3M1277.2,1417.7h1.3M1289.1,1419.2h1.3M1295.7,1416.6h1.3M1303.9,1415.8h1.3M1311.4,1418.1h1.3M1318.0,1415.9h1.3M1220.8,1424.3h1.3M1241.0,1421.4h1.3M1251.4,1423.7h1.3M1254.4,1421.8h1.3M1262.0,1425.0h1.3M1268.3,1421.9h1.3M1278.4,1424.6h1.3M1285.5,1420.9h1.3M1295.1,1423.2h1.3M1308.5,1425.5h1.3M1312.7,1424.9h1.3M1317.4,1423.3h1.3M1228.5,1429.5h1.3M1252.5,1429.6h1.3M1265.4,1428.3h1.3M1278.7,1427.0h1.3M1288.1,1430.7h1.3M1296.1,1429.2h1.3M1302.6,1431.1h1.3M1314.8,1427.7h1.3M1320.4,1426.5h1.3M1234.8,1432.7h1.3M1239.4,1433.7h1.3M1243.3,1435.0h1.3M1248.7,1436.8h1.3M1254.8,1435.6h1.3M1284.5,1433.1h1.3M1291.4,1432.7h1.3M1294.2,1435.5h1.3M1307.6,1433.5h1.3M1314.1,1435.1h1.3M1321.0,1433.9h1.3M1232.2,1441.3h1.3M1250.3,1441.4h1.3M1258.6,1441.1h1.3M1266.8,1438.7h1.3M1280.6,1439.8h1.3M1289.6,1440.4h1.3M1302.2,1441.3h1.3M1307.1,1438.5h1.3M1311.0,1441.5h1.3M1320.0,1438.1h1.3M1234.7,1445.9h1.3M1241.3,1448.2h1.3M1249.4,1447.2h1.3M1271.3,1444.6h1.3M1280.4,1447.0h1.3M1303.0,1446.4h1.3M1308.8,1446.8h1.3M1235.2,1451.0h1.3M1238.6,1451.8h1.3M1257.0,1451.8h1.3M1277.4,1452.5h1.3M1284.2,1450.5h1.3M1294.5,1450.3h1.3M1308.6,1453.2h1.3M1243.9,1455.4h1.3M1249.5,1456.1h1.3M1255.6,1457.7h1.3M1262.4,1456.4h1.3M1273.6,1457.7h1.3M1279.6,1458.6h1.3M1290.7,1457.0h1.3M1243.9,1463.9h1.3M1262.5,1462.2h1.3M1275.2,1461.0h1.3M1282.8,1464.9h1.3M1313.7,1465.0h1.3M1243.9,1466.8h1.3M1281.2,1471.0h1.3M1295.4,1466.3h1.3M1300.0,1468.8h1.3M1315.6,1469.0h1.3M1255.3,1472.2h1.3M1260.2,1475.6h1.3M1273.6,1473.3h1.3M1288.3,1474.0h1.3M1300.5,1472.0h1.3M1309.5,1472.5h1.3M1251.1,1482.5h1.3M1258.6,1481.6h1.3M1260.5,1479.7h1.3M1276.9,1480.0h1.3M1290.5,1482.1h1.3M1295.0,1478.3h1.3M1301.4,1478.1h1.3M1312.8,1477.8h1.3M1260.3,1486.4h1.3M1269.1,1488.0h1.3M1300.7,1484.3h1.3M1310.0,1487.3h1.3M1255.6,1489.5h1.3M1271.2,1493.6h1.3M1285.9,1490.7h1.3M1292.0,1492.2h1.3M1294.7,1492.9h1.3M1302.5,1493.8h1.3M1308.0,1491.8h1.3M1271.9,1499.0h1.3M1277.7,1497.1h1.3M1261.0,1501.3h1.3M1267.8,1502.9h1.3M1275.7,1501.5h1.3M1280.0,1502.3h1.3M1292.2,1501.8h1.3" stroke="#ffa040" stroke-width="1.3" fill="none"/>
<path d="M1220.6,1066.1h1.3M1246.4,1065.4h1.3M1251.4,1064.3h1.3M1286.1,1067.9h1.3M1301.5,1068.9h1.3M1328.5,1071.2h1.3M1297.4,1076.2h1.3M1311.9,1074.6h1.3M1232.8,1083.3h1.3M1252.1,1082.5h1.3M1324.3,1081.2h1.3M1256.9,1085.9h1.3M1273.3,1088.9h1.3M1279.5,1085.1h1.3M1294.5,1088.5h1.3M1332.5,1087.0h1.3M1249.0,1093.4h1.3M1254.2,1094.0h1.3M1271.4,1094.5h1.3M1280.3,1094.2h1.3M1288.3,1090.4h1.3M1297.2,1093.1h1.3M1321.4,1093.5h1.3M1323.0,1091.8h1.3M1218.1,1100.2h1.3M1220.5,1097.6h1.3M1229.2,1099.6h1.3M1306.4,1099.3h1.3M1210.6,1102.1h1.3M1292.0,1104.8h1.3M1209.8,1107.3h1.3M1242.8,1107.2h1.3M1264.4,1110.5h1.3M1332.3,1108.4h1.3M1216.7,1114.9h1.3M1226.6,1116.9h1.3M1251.1,1113.8h1.3M1275.4,1116.3h1.3M1285.5,1113.7h1.3M1305.2,1114.0h1.3M1318.2,1114.2h1.3M1324.2,1116.2h1.3M1222.0,1119.3h1.3M1291.2,1123.1h1.3M1320.0,1122.3h1.3M1215.7,1127.9h1.3M1228.4,1127.6h1.3M1246.4,1125.4h1.3M1266.8,1129.0h1.3M1299.6,1126.2h1.3M1205.5,1132.4h1.3M1220.9,1132.8h1.3M1260.6,1130.0h1.3M1325.5,1132.1h1.3M1237.4,1138.0h1.3M1283.3,1139.7h1.3M1300.5,1140.0h1.3M1232.3,1144.7h1.3M1251.8,1145.6h1.3M1296.5,1144.3h1.3M1214.1,1151.6h1.3M1223.4,1149.8h1.3M1229.1,1148.6h1.3M1237.1,1150.2h1.3M1252.4,1147.3h1.3M1268.8,1147.6h1.3M1215.6,1155.7h1.3M1236.9,1156.3h1.3M1244.4,1155.2h1.3M1267.2,1156.4h1.3M1301.0,1155.6h1.3M1316.7,1153.5h1.3M1322.7,1153.7h1.3M1331.9,1154.8h1.3M1206.6,1158.7h1.3M1223.2,1159.8h1.3M1260.8,1162.4h1.3M1277.5,1159.7h1.3M1218.0,1168.3h1.3M1225.9,1164.9h1.3M1238.3,1165.5h1.3M1255.0,1165.4h1.3M1263.0,1167.0h1.3M1221.8,1173.7h1.3M1275.0,1172.7h1.3M1278.5,1171.2h1.3M1282.7,1177.2h1.3M1289.6,1179.0h1.3M1233.3,1185.2h1.3M1238.5,1185.5h1.3M1246.1,1181.7h1.3M1272.4,1182.7h1.3M1232.0,1190.8h1.3M1251.2,1188.8h1.3M1261.6,1188.7h1.3M1281.4,1189.7h1.3M1295.9,1189.6h1.3M1309.6,1190.9h1.3M1313.6,1190.1h1.3M1323.6,1189.1h1.3M1222.8,1193.2h1.3M1234.9,1196.2h1.3M1261.5,1196.4h1.3M1308.0,1193.5h1.3M1214.1,1202.4h1.3M1224.0,1199.7h1.3M1248.8,1202.7h1.3M1267.0,1200.8h1.3M1283.0,1199.1h1.3M1275.5,1204.1h1.3M1206.2,1211.2h1.3M1223.6,1214.5h1.3M1267.5,1212.6h1.3M1278.1,1212.0h1.3M1308.6,1212.0h1.3M1224.3,1217.1h1.3M1231.3,1216.1h1.3M1258.3,1216.3h1.3M1331.1,1216.0h1.3M1212.2,1224.0h1.3M1218.7,1224.8h1.3M1248.4,1224.1h1.3M1256.0,1225.7h1.3M1262.6,1224.4h1.3M1269.5,1221.7h1.3M1305.8,1222.0h1.3M1330.6,1225.0h1.3M1223.5,1231.1h1.3M1273.6,1228.9h1.3M1221.5,1237.4h1.3M1254.3,1233.2h1.3M1269.9,1233.7h1.3M1222.3,1242.9h1.3M1249.4,1240.1h1.3M1259.9,1241.6h1.3M1326.4,1242.5h1.3M1331.6,1241.2h1.3M1211.1,1248.7h1.3M1296.8,1248.5h1.3M1299.8,1244.2h1.3M1223.2,1253.1h1.3M1232.4,1254.1h1.3M1257.7,1253.5h1.3M1328.4,1250.2h1.3M1245.3,1259.2h1.3M1252.9,1259.2h1.3M1255.0,1258.6h1.3M1266.3,1255.4h1.3M1308.2,1258.4h1.3M1211.5,1262.2h1.3M1229.0,1262.1h1.3M1241.1,1264.2h1.3M1245.3,1263.6h1.3M1317.1,1263.4h1.3M1330.8,1269.0h1.3M1230.0,1276.8h1.3M1255.0,1272.7h1.3M1265.5,1275.0h1.3M1280.0,1273.1h1.3M1302.4,1273.1h1.3M1205.5,1281.9h1.3M1209.4,1281.3h1.3M1238.3,1280.5h1.3M1269.6,1282.7h1.3M1291.4,1281.0h1.3M1326.8,1281.9h1.3M1212.3,1286.8h1.3M1273.4,1284.3h1.3M1306.5,1287.6h1.3M1243.7,1291.6h1.3M1262.2,1292.0h1.3M1319.7,1292.7h1.3M1223.6,1298.3h1.3M1237.1,1295.6h1.3M1289.4,1299.9h1.3M1296.4,1297.0h1.3M1325.4,1297.4h1.3M1209.4,1302.2h1.3M1306.3,1304.0h1.3M1330.8,1302.7h1.3M1214.8,1309.4h1.3M1239.1,1307.7h1.3M1245.3,1307.8h1.3M1288.3,1306.8h1.3M1223.9,1314.3h1.3M1243.5,1312.7h1.3M1261.7,1313.5h1.3M1301.8,1314.9h1.3M1316.8,1317.0h1.3M1328.0,1313.0h1.3M1224.0,1320.8h1.3M1230.1,1324.8h1.3M1250.8,1327.1h1.3M1260.8,1328.4h1.3M1268.7,1325.3h1.3M1288.2,1324.0h1.3M1212.1,1333.2h1.3M1226.8,1330.8h1.3M1247.3,1331.0h1.3M1288.3,1330.0h1.3M1260.4,1337.0h1.3M1266.9,1336.1h1.3M1314.5,1336.1h1.3M1319.2,1335.6h1.3M1210.9,1344.7h1.3M1228.8,1341.6h1.3M1240.2,1344.2h1.3M1291.0,1344.0h1.3M1328.1,1343.9h1.3M1221.3,1347.6h1.3M1236.8,1348.6h1.3M1264.4,1346.8h1.3M1284.9,1348.4h1.3M1302.9,1347.6h1.3M1210.8,1355.2h1.3M1269.9,1354.8h1.3M1283.0,1354.5h1.3M1294.1,1355.2h1.3M1308.0,1354.6h1.3M1212.8,1359.9h1.3M1232.7,1362.5h1.3M1248.4,1360.3h1.3M1255.1,1361.5h1.3M1275.7,1359.0h1.3M1267.8,1364.8h1.3M1210.7,1372.9h1.3M1222.5,1371.6h1.3M1281.2,1374.1h1.3M1292.4,1369.7h1.3M1315.1,1373.6h1.3M1212.2,1379.7h1.3M1242.5,1377.6h1.3M1262.8,1378.3h1.3M1279.8,1382.9h1.3M1282.4,1382.5h1.3M1321.0,1385.1h1.3M1221.4,1389.7h1.3M1228.2,1390.0h1.3M1240.1,1387.3h1.3M1286.1,1387.1h1.3M1291.2,1389.8h1.3M1329.3,1387.7h1.3M1242.6,1396.1h1.3M1260.4,1395.3h1.3M1318.4,1393.4h1.3M1332.7,1395.5h1.3M1315.1,1401.5h1.3M1214.2,1404.2h1.3M1290.3,1405.0h1.3M1315.7,1406.3h1.3M1330.0,1406.3h1.3M1240.4,1412.7h1.3M1277.7,1411.8h1.3M1294.2,1410.9h1.3M1226.3,1418.9h1.3M1231.2,1417.1h1.3M1259.9,1416.7h1.3M1267.2,1417.7h1.3M1285.4,1419.2h1.3M1231.1,1422.6h1.3M1244.3,1422.9h1.3M1275.3,1424.4h1.3M1284.6,1428.5h1.3M1305.7,1427.8h1.3M1267.4,1434.3h1.3M1277.4,1432.7h1.3M1247.0,1442.2h1.3M1274.1,1438.3h1.3M1259.8,1447.5h1.3M1266.8,1446.2h1.3M1283.1,1446.4h1.3M1296.4,1447.9h1.3M1252.6,1450.3h1.3M1260.7,1452.1h1.3M1274.7,1451.3h1.3M1265.5,1455.5h1.3M1302.0,1459.4h1.3M1312.0,1455.0h1.3M1252.6,1461.8h1.3M1257.3,1463.9h1.3M1249.1,1469.0h1.3M1258.1,1468.1h1.3M1262.2,1466.4h1.3M1267.6,1469.3h1.3M1284.4,1470.1h1.3M1249.9,1472.9h1.3M1267.4,1475.8h1.3M1297.6,1476.7h1.3M1313.7,1473.9h1.3M1266.5,1480.0h1.3M1274.2,1481.1h1.3M1285.2,1480.6h1.3M1295.2,1485.1h1.3M1314.2,1485.5h1.3M1280.2,1489.6h1.3M1268.3,1496.4h1.3M1285.3,1496.7h1.3M1289.1,1498.1h1.3M1308.7,1497.0h1.3M1311.6,1497.1h1.3" stroke="#ff3a10" stroke-width="1.3" fill="none"/>
<path d="M1232.5,1079.4A6.3,6.3 0 1 1 1233.9,1067.3M1252.5,1076.3A6.3,6.3 0 0 1 1250.6,1063.9M1289.8,1065.0A6.3,6.3 0 0 1 1296.5,1075.6M1313.5,1078.4A6.3,6.3 0 1 1 1322.4,1070.7M1220.4,1077.5A6.3,6.3 0 1 1 1222.4,1089.8M1251.0,1087.3A6.3,6.3 0 1 1 1238.5,1088.6M1270.4,1086.6A6.3,6.3 0 1 1 1260.7,1078.7M1284.2,1077.6A6.3,6.3 0 0 1 1282.0,1090.0M1308.3,1088.6A6.3,6.3 0 0 1 1295.8,1087.3M1320.7,1086.9A6.3,6.3 0 1 1 1332.3,1087.9M1219.4,1102.7A6.3,6.3 0 0 1 1207.0,1102.7M1237.1,1104.8A6.3,6.3 0 1 1 1227.7,1097.7M1256.0,1102.6A6.3,6.3 0 0 1 1244.8,1096.8M1267.0,1102.6A6.3,6.3 0 1 1 1279.5,1104.0M1300.1,1099.9A6.3,6.3 0 1 1 1289.6,1095.2M1306.1,1104.8A6.3,6.3 0 0 1 1317.8,1100.0M1228.6,1118.9A6.3,6.3 0 1 1 1216.1,1119.7M1236.1,1117.1A6.3,6.3 0 1 1 1245.9,1122.6M1254.7,1116.1A6.3,6.3 0 0 1 1265.3,1123.0M1278.4,1120.3A6.3,6.3 0 0 1 1288.9,1113.9M1296.1,1124.5A6.3,6.3 0 1 1 1307.4,1119.8M1327.4,1119.4A6.3,6.3 0 1 1 1315.0,1121.3M1205.5,1134.6A6.3,6.3 0 1 1 1216.8,1138.7M1237.9,1140.2A6.3,6.3 0 1 1 1229.8,1130.6M1257.4,1135.3A6.3,6.3 0 1 1 1248.9,1126.2M1288.2,1133.2A6.3,6.3 0 1 1 1296.4,1141.5M1306.0,1129.9A6.3,6.3 0 1 1 1315.9,1137.7M1229.5,1145.5A6.3,6.3 0 1 1 1217.8,1148.3M1245.4,1154.6A6.3,6.3 0 1 1 1241.2,1143.2M1266.3,1148.9A6.3,6.3 0 1 1 1254.8,1150.7M1299.9,1146.0A6.3,6.3 0 0 1 1311.3,1151.5M1328.9,1144.7A6.3,6.3 0 1 1 1319.3,1152.0M1205.4,1170.4A6.3,6.3 0 0 1 1213.7,1160.9M1231.9,1175.2A6.3,6.3 0 1 1 1233.5,1162.8M1251.3,1164.3A6.3,6.3 0 0 1 1260.2,1173.0M1277.3,1163.8A6.3,6.3 0 1 1 1267.0,1159.2M1298.1,1171.5A6.3,6.3 0 1 1 1290.7,1162.6M1317.5,1165.4A6.3,6.3 0 1 1 1306.5,1171.3M1222.0,1174.0A6.3,6.3 0 1 1 1219.2,1186.1M1265.0,1179.4A6.3,6.3 0 1 1 1255.6,1187.7M1278.5,1188.7A6.3,6.3 0 1 1 1289.1,1183.7M1305.0,1175.9A6.3,6.3 0 1 1 1303.0,1188.3M1325.9,1176.2A6.3,6.3 0 1 1 1316.5,1183.6M1208.5,1202.2A6.3,6.3 0 1 1 1219.7,1202.1M1231.8,1202.8A6.3,6.3 0 0 1 1225.5,1191.9M1266.2,1195.3A6.3,6.3 0 1 1 1278.6,1197.5M1287.0,1195.7A6.3,6.3 0 0 1 1299.3,1194.1M1318.1,1204.8A6.3,6.3 0 1 1 1311.8,1194.3M1212.9,1210.9A6.3,6.3 0 0 1 1225.3,1212.1M1254.4,1217.2A6.3,6.3 0 1 1 1266.7,1215.6M1287.6,1219.1A6.3,6.3 0 1 1 1278.8,1210.7M1295.1,1214.7A6.3,6.3 0 1 1 1307.3,1216.4M1319.5,1215.1A6.3,6.3 0 1 1 1330.9,1216.3M1207.5,1226.1A6.3,6.3 0 1 1 1210.5,1237.1M1238.5,1236.5A6.3,6.3 0 0 1 1230.2,1227.0M1271.0,1223.9A6.3,6.3 0 0 1 1279.2,1233.3M1289.7,1223.7A6.3,6.3 0 1 1 1294.3,1235.1M1219.0,1243.6A6.3,6.3 0 1 1 1221.8,1254.9M1249.8,1247.9A6.3,6.3 0 1 1 1238.8,1242.9M1258.8,1247.8A6.3,6.3 0 1 1 1270.5,1247.8M1286.2,1250.1A6.3,6.3 0 1 1 1286.7,1238.0M1304.3,1254.4A6.3,6.3 0 1 1 1300.7,1242.4M1316.4,1251.6A6.3,6.3 0 1 1 1327.6,1245.8M1249.0,1261.7A6.3,6.3 0 1 1 1259.6,1268.4M1285.5,1266.8A6.3,6.3 0 1 1 1297.2,1266.9M1318.7,1260.3A6.3,6.3 0 0 1 1306.5,1263.3M1260.7,1274.7A6.3,6.3 0 1 1 1267.3,1285.2M1306.6,1281.7A6.3,6.3 0 1 1 1310.1,1270.5M1318.8,1285.1A6.3,6.3 0 1 1 1328.4,1279.2M1209.3,1288.4A6.3,6.3 0 0 1 1211.0,1300.6M1257.1,1292.8A6.3,6.3 0 1 1 1245.0,1294.8M1275.0,1289.3A6.3,6.3 0 1 1 1275.0,1301.9M1287.8,1301.6A6.3,6.3 0 0 1 1293.3,1290.5M1320.7,1293.4A6.3,6.3 0 0 1 1308.4,1290.9M1236.8,1307.0A6.3,6.3 0 1 1 1242.4,1318.0M1283.0,1314.6A6.3,6.3 0 1 1 1288.4,1304.6M1308.6,1310.2A6.3,6.3 0 1 1 1298.4,1304.0M1330.8,1305.3A6.3,6.3 0 1 1 1319.4,1308.6M1274.8,1333.1A6.3,6.3 0 1 1 1276.1,1321.3M1284.9,1321.2A6.3,6.3 0 0 1 1296.5,1326.0M1320.9,1322.6A6.3,6.3 0 1 1 1309.6,1323.5M1216.6,1346.8A6.3,6.3 0 1 1 1225.9,1340.2M1240.0,1336.7A6.3,6.3 0 0 1 1242.4,1349.0M1266.1,1348.3A6.3,6.3 0 0 1 1257.2,1339.5M1280.0,1337.6A6.3,6.3 0 1 1 1278.4,1349.3M1298.2,1347.2A6.3,6.3 0 1 1 1307.4,1338.9M1316.7,1346.1A6.3,6.3 0 1 1 1328.8,1344.9M1215.6,1361.0A6.3,6.3 0 0 1 1203.3,1359.0M1236.8,1355.3A6.3,6.3 0 1 1 1226.8,1362.3M1247.8,1358.9A6.3,6.3 0 0 1 1260.3,1360.0M1266.3,1359.6A6.3,6.3 0 0 1 1276.0,1351.5M1298.6,1356.2A6.3,6.3 0 1 1 1287.4,1359.7M1317.7,1361.2A6.3,6.3 0 0 1 1305.9,1357.0M1222.0,1365.3A6.3,6.3 0 1 1 1214.1,1373.8M1248.2,1366.6A6.3,6.3 0 1 1 1239.9,1376.1M1258.6,1380.8A6.3,6.3 0 0 1 1263.3,1369.2M1300.1,1378.7A6.3,6.3 0 1 1 1302.9,1366.5M1318.6,1375.8A6.3,6.3 0 1 1 1330.3,1373.9M1203.4,1387.6A6.3,6.3 0 1 1 1214.7,1393.3M1254.5,1384.7A6.3,6.3 0 1 1 1245.8,1393.4M1292.7,1394.2A6.3,6.3 0 0 1 1290.3,1382.0M1310.6,1392.2A6.3,6.3 0 1 1 1323.0,1390.4M1214.7,1411.9A6.3,6.3 0 1 1 1226.2,1408.5M1238.7,1412.0A6.3,6.3 0 1 1 1250.4,1410.6M1259.9,1410.2A6.3,6.3 0 0 1 1263.8,1398.2M1282.6,1411.1A6.3,6.3 0 0 1 1285.0,1398.9M1300.4,1403.7A6.3,6.3 0 0 1 1310.8,1410.7M1318.8,1404.7A6.3,6.3 0 1 1 1327.4,1413.4M1228.8,1422.9A6.3,6.3 0 1 1 1240.2,1418.6M1268.4,1426.1A6.3,6.3 0 0 1 1272.7,1414.4M1302.0,1424.8A6.3,6.3 0 1 1 1293.8,1416.7M1311.5,1429.9A6.3,6.3 0 0 1 1311.5,1417.4M1246.7,1444.0A6.3,6.3 0 1 1 1239.7,1433.7M1265.2,1443.2A6.3,6.3 0 0 1 1257.4,1433.4M1280.4,1434.1A6.3,6.3 0 1 1 1287.0,1444.6M1295.6,1442.2A6.3,6.3 0 0 1 1307.7,1438.5" stroke="#ff4a10" stroke-width="1.1" fill="none"/>
<path d="M1219.5,1098.0H1229.1M1219.5,1102.4H1229.1M1219.5,1098.0V1102.4M1236.7,1098.0H1253.0M1236.7,1102.4H1253.0M1257.7,1098.0H1267.3M1257.7,1102.4H1267.3M1267.3,1098.0V1102.4" fill="none" stroke="#ff2a10" stroke-width="1.15"/>
<path d="M1272.3,1113.0H1282.0M1272.3,1117.4H1282.0M1272.3,1113.0V1117.4M1289.7,1113.0H1306.1M1289.7,1117.4H1306.1M1310.9,1113.0H1320.6M1310.9,1117.4H1320.6M1320.6,1113.0V1117.4" fill="none" stroke="#ff8a10" stroke-width="2.1"/>
<path d="M1218.4,1148.6H1228.1M1218.4,1153.0H1228.1M1218.4,1148.6V1153.0M1235.8,1148.6H1252.3M1235.8,1153.0H1252.3M1257.1,1148.6H1266.8M1257.1,1153.0H1266.8M1266.8,1148.6V1153.0" fill="none" stroke="#ff8a10" stroke-width="2.1"/>
<path d="M1268.5,1189.5H1278.4M1268.5,1193.9H1278.4M1268.5,1189.5V1193.9M1286.2,1189.5H1303.0M1286.2,1193.9H1303.0M1307.9,1189.5H1317.8M1307.9,1193.9H1317.8M1317.8,1189.5V1193.9" fill="none" stroke="#ff2a10" stroke-width="1.15"/>
<path d="M1218.4,1210.5H1228.1M1218.4,1214.9H1228.1M1218.4,1210.5V1214.9M1235.8,1210.5H1252.3M1235.8,1214.9H1252.3M1257.1,1210.5H1266.8M1257.1,1214.9H1266.8M1266.8,1210.5V1214.9" fill="none" stroke="#ff2a10" stroke-width="1.15"/>
<path d="M1270.7,1237.4H1280.1M1270.7,1241.8H1280.1M1270.7,1237.4V1241.8M1287.7,1237.4H1303.7M1287.7,1241.8H1303.7M1308.4,1237.4H1317.8M1308.4,1241.8H1317.8M1317.8,1237.4V1241.8" fill="none" stroke="#ff8a10" stroke-width="2.1"/>
<path d="M1221.0,1260.8H1230.6M1221.0,1265.2H1230.6M1221.0,1260.8V1265.2M1238.3,1260.8H1254.6M1238.3,1265.2H1254.6M1259.4,1260.8H1269.0M1259.4,1265.2H1269.0M1269.0,1260.8V1265.2" fill="none" stroke="#ff8a10" stroke-width="2.1"/>
<path d="M1268.4,1288.7H1278.2M1268.4,1293.1H1278.2M1268.4,1288.7V1293.1M1286.1,1288.7H1302.8M1286.1,1293.1H1302.8M1307.8,1288.7H1317.6M1307.8,1293.1H1317.6M1317.6,1288.7V1293.1" fill="none" stroke="#ff2a10" stroke-width="1.15"/>
<path d="M1216.0,1318.3H1225.8M1216.0,1322.7H1225.8M1216.0,1318.3V1322.7M1233.6,1318.3H1250.2M1233.6,1322.7H1250.2M1255.0,1318.3H1264.8M1255.0,1322.7H1264.8M1264.8,1318.3V1322.7" fill="none" stroke="#ff8a10" stroke-width="2.1"/>
<path d="M1267.8,1339.0H1277.5M1267.8,1343.4H1277.5M1267.8,1339.0V1343.4M1285.3,1339.0H1301.9M1285.3,1343.4H1301.9M1306.8,1339.0H1316.5M1306.8,1343.4H1316.5M1316.5,1339.0V1343.4" fill="none" stroke="#ff2a10" stroke-width="1.15"/>
<path d="M1216.0,1365.9H1225.8M1216.0,1370.3H1225.8M1216.0,1365.9V1370.3M1233.6,1365.9H1250.2M1233.6,1370.3H1250.2M1255.0,1365.9H1264.8M1255.0,1370.3H1264.8M1264.8,1365.9V1370.3" fill="none" stroke="#ff8a10" stroke-width="2.1"/>
<path d="M1269.5,1387.2H1279.2M1269.5,1391.6H1279.2M1269.5,1387.2V1391.6M1286.9,1387.2H1303.3M1286.9,1391.6H1303.3M1308.1,1387.2H1317.8M1308.1,1391.6H1317.8M1317.8,1387.2V1391.6" fill="none" stroke="#ff2a10" stroke-width="1.15"/>
<path d="M1217.0,1408.4H1226.8M1217.0,1412.8H1226.8M1217.0,1408.4V1412.8M1234.6,1408.4H1251.3M1234.6,1412.8H1251.3M1256.2,1408.4H1266.0M1256.2,1412.8H1266.0M1266.0,1408.4V1412.8" fill="none" stroke="#ff2a10" stroke-width="1.15"/>
<path d="M1153.7,1443.9A6.5,6.5 0 1 1 1143.1,1448.1M1185.8,1449.8A6.5,6.5 0 1 1 1174.3,1444.9M1143.2,1464.6A6.5,6.5 0 1 1 1147.1,1473.8M1165.0,1478.1A6.5,6.5 0 1 1 1174.0,1469.5M1187.8,1453.6A6.5,6.5 0 1 1 1181.6,1463.0M1202.3,1472.6A6.5,6.5 0 1 1 1214.7,1473.8M1179.2,1481.4A6.5,6.5 0 1 1 1186.2,1490.0M1218.9,1478.9A6.5,6.5 0 1 1 1214.4,1487.5M1207.1,1501.0A6.5,6.5 0 1 1 1203.1,1491.7M1234.7,1503.9A6.5,6.5 0 1 1 1243.9,1496.7M1246.7,1510.3A6.5,6.5 0 1 1 1256.4,1507.2M1213.3,1517.4A6.5,6.5 0 1 1 1225.8,1516.1M1225.8,1528.9A6.5,6.5 0 1 1 1238.0,1530.7M1271.7,1523.6A6.5,6.5 0 1 1 1259.9,1519.3M1195.2,1482.4A6.5,6.5 0 1 1 1206.4,1479.3M1239.5,1512.0A6.5,6.5 0 1 1 1227.7,1508.3" stroke="#ff6410" stroke-width="1.1" fill="none"/>
<path d="M1341.0,1637.1h14M1343.5,1637.1L1342.0,1633.9M1345.8,1637.1L1345.0,1631.9M1348.0,1637.1L1348.0,1630.3M1350.2,1637.1L1351.0,1631.9M1352.5,1637.1L1354.0,1633.9" stroke="#ff3010" stroke-width="1.15" fill="none"/>
<path d="M1329.0,1648.1h14M1331.5,1648.1L1330.0,1644.9M1333.8,1648.1L1333.0,1642.9M1336.0,1648.1L1336.0,1641.3M1338.2,1648.1L1339.0,1642.9M1340.5,1648.1L1342.0,1644.9" stroke="#ff8a10" stroke-width="1.15" fill="none"/>
<path d="M1346.9,1661.3h14M1349.4,1661.3L1347.9,1658.1M1351.7,1661.3L1350.9,1656.1M1353.9,1661.3L1353.9,1654.5M1356.1,1661.3L1356.9,1656.1M1358.4,1661.3L1359.9,1658.1" stroke="#ff3010" stroke-width="1.15" fill="none"/>
<path d="M1366.0,1663.7h14M1368.5,1663.7L1367.0,1660.5M1370.8,1663.7L1370.0,1658.5M1373.0,1663.7L1373.0,1656.9M1375.2,1663.7L1376.0,1658.5M1377.5,1663.7L1379.0,1660.5" stroke="#ff8a10" stroke-width="1.15" fill="none"/>
<path d="M1338.3,1686.1h14M1340.8,1686.1L1339.3,1682.9M1343.1,1686.1L1342.3,1680.9M1345.3,1686.1L1345.3,1679.3M1347.5,1686.1L1348.3,1680.9M1349.8,1686.1L1351.3,1682.9" stroke="#ff8a10" stroke-width="1.15" fill="none"/>
<path d="M1362.8,1690.2h14M1365.3,1690.2L1363.8,1687.0M1367.6,1690.2L1366.8,1685.0M1369.8,1690.2L1369.8,1683.4M1372.0,1690.2L1372.8,1685.0M1374.3,1690.2L1375.8,1687.0" stroke="#ff3010" stroke-width="1.15" fill="none"/>
<path d="M1343.5,1707.0h14M1346.0,1707.0L1344.5,1703.8M1348.3,1707.0L1347.5,1701.8M1350.5,1707.0L1350.5,1700.2M1352.7,1707.0L1353.5,1701.8M1355.0,1707.0L1356.5,1703.8" stroke="#ff8a10" stroke-width="1.15" fill="none"/>
<path d="M1366.8,1716.8h14M1369.3,1716.8L1367.8,1713.6M1371.6,1716.8L1370.8,1711.6M1373.8,1716.8L1373.8,1710.0M1376.0,1716.8L1376.8,1711.6M1378.3,1716.8L1379.8,1713.6" stroke="#ff8a10" stroke-width="1.15" fill="none"/>
<path d="M1333.4,1725.3h14M1335.9,1725.3L1334.4,1722.1M1338.2,1725.3L1337.4,1720.1M1340.4,1725.3L1340.4,1718.5M1342.6,1725.3L1343.4,1720.1M1344.9,1725.3L1346.4,1722.1" stroke="#ff3010" stroke-width="1.15" fill="none"/>
<path d="M1336.3,1740.3h14M1338.8,1740.3L1337.3,1737.1M1341.1,1740.3L1340.3,1735.1M1343.3,1740.3L1343.3,1733.5M1345.5,1740.3L1346.3,1735.1M1347.8,1740.3L1349.3,1737.1" stroke="#ff3010" stroke-width="1.15" fill="none"/>
<path d="M1373.4,1736.7h14M1375.9,1736.7L1374.4,1733.5M1378.2,1736.7L1377.4,1731.5M1380.4,1736.7L1380.4,1729.9M1382.6,1736.7L1383.4,1731.5M1384.9,1736.7L1386.4,1733.5" stroke="#ff3010" stroke-width="1.15" fill="none"/>
<path d="M1376.6,1755.1h14M1379.1,1755.1L1377.6,1751.9M1381.4,1755.1L1380.6,1749.9M1383.6,1755.1L1383.6,1748.3M1385.8,1755.1L1386.6,1749.9M1388.1,1755.1L1389.6,1751.9" stroke="#ff3010" stroke-width="1.15" fill="none"/>
<path d="M1355.1,1773.4h14M1357.6,1773.4L1356.1,1770.2M1359.9,1773.4L1359.1,1768.2M1362.1,1773.4L1362.1,1766.6M1364.3,1773.4L1365.1,1768.2M1366.6,1773.4L1368.1,1770.2" stroke="#ff3010" stroke-width="1.15" fill="none"/>
<path d="M1382.3,1786.2h14M1384.8,1786.2L1383.3,1783.0M1387.1,1786.2L1386.3,1781.0M1389.3,1786.2L1389.3,1779.4M1391.5,1786.2L1392.3,1781.0M1393.8,1786.2L1395.3,1783.0" stroke="#ff3010" stroke-width="1.15" fill="none"/>
<path d="M1357.0,1790.1h14M1359.5,1790.1L1358.0,1786.9M1361.8,1790.1L1361.0,1784.9M1364.0,1790.1L1364.0,1783.3M1366.2,1790.1L1367.0,1784.9M1368.5,1790.1L1370.0,1786.9" stroke="#ff3010" stroke-width="1.15" fill="none"/>
<path d="M1401.9,1793.0h14M1404.4,1793.0L1402.9,1789.8M1406.7,1793.0L1405.9,1787.8M1408.9,1793.0L1408.9,1786.2M1411.1,1793.0L1411.9,1787.8M1413.4,1793.0L1414.9,1789.8" stroke="#ff3010" stroke-width="1.15" fill="none"/>
<path d="M1384.5,1804.0h14M1387.0,1804.0L1385.5,1800.8M1389.3,1804.0L1388.5,1798.8M1391.5,1804.0L1391.5,1797.2M1393.7,1804.0L1394.5,1798.8M1396.0,1804.0L1397.5,1800.8" stroke="#ff8a10" stroke-width="1.15" fill="none"/>
<path d="M1379.4,1824.0h14M1381.9,1824.0L1380.4,1820.8M1384.2,1824.0L1383.4,1818.8M1386.4,1824.0L1386.4,1817.2M1388.6,1824.0L1389.4,1818.8M1390.9,1824.0L1392.4,1820.8" stroke="#ff3010" stroke-width="1.15" fill="none"/>
<path d="M1404.9,1821.1h14M1407.4,1821.1L1405.9,1817.9M1409.7,1821.1L1408.9,1815.9M1411.9,1821.1L1411.9,1814.3M1414.1,1821.1L1414.9,1815.9M1416.4,1821.1L1417.9,1817.9" stroke="#ff8a10" stroke-width="1.15" fill="none"/>
<path d="M1407.2,1837.9h14M1409.7,1837.9L1408.2,1834.7M1412.0,1837.9L1411.2,1832.7M1414.2,1837.9L1414.2,1831.1M1416.4,1837.9L1417.2,1832.7M1418.7,1837.9L1420.2,1834.7" stroke="#ff8a10" stroke-width="1.15" fill="none"/>
<line x1="197.1" y1="148.6" x2="197.1" y2="2153.0" stroke="#000" stroke-width="4" />
<line x1="215.2" y1="150.0" x2="215.2" y2="2152.0" stroke="#000" stroke-width="2.6" />
<line x1="195.1" y1="150.2" x2="262.0" y2="150.2" stroke="#000" stroke-width="3.2" />
<line x1="195.1" y1="350.0" x2="262.0" y2="350.0" stroke="#000" stroke-width="3.2" />
<line x1="195.1" y1="550.0" x2="262.0" y2="550.0" stroke="#000" stroke-width="3.2" />
<line x1="195.1" y1="750.0" x2="262.0" y2="750.0" stroke="#000" stroke-width="3.2" />
<line x1="195.1" y1="950.0" x2="262.0" y2="950.0" stroke="#000" stroke-width="3.2" />
<line x1="195.1" y1="1150.0" x2="262.0" y2="1150.0" stroke="#000" stroke-width="3.2" />
<line x1="195.1" y1="1349.6" x2="262.0" y2="1349.6" stroke="#000" stroke-width="3.2" />
<line x1="195.1" y1="1550.7" x2="262.0" y2="1550.7" stroke="#000" stroke-width="3.2" />
<line x1="195.1" y1="1761.0" x2="262.0" y2="1761.0" stroke="#000" stroke-width="3.2" />
<line x1="195.1" y1="1961.7" x2="262.0" y2="1961.7" stroke="#000" stroke-width="3.2" />
<line x1="195.1" y1="2151.4" x2="262.0" y2="2151.4" stroke="#000" stroke-width="3.2" />
<line x1="195.1" y1="250.0" x2="216.5" y2="250.0" stroke="#000" stroke-width="3.2" />
<line x1="195.1" y1="450.0" x2="216.5" y2="450.0" stroke="#000" stroke-width="3.2" />
<line x1="195.1" y1="650.0" x2="216.5" y2="650.0" stroke="#000" stroke-width="3.2" />
<line x1="195.1" y1="850.0" x2="216.5" y2="850.0" stroke="#000" stroke-width="3.2" />
<line x1="195.1" y1="1050.0" x2="216.5" y2="1050.0" stroke="#000" stroke-width="3.2" />
<line x1="195.1" y1="1250.0" x2="216.5" y2="1250.0" stroke="#000" stroke-width="3.2" />
<line x1="195.1" y1="1450.2" x2="216.5" y2="1450.2" stroke="#000" stroke-width="3.2" />
<line x1="195.1" y1="1651.3" x2="216.5" y2="1651.3" stroke="#000" stroke-width="3.2" />
<line x1="195.1" y1="1861.6" x2="216.5" y2="1861.6" stroke="#000" stroke-width="3.2" />
<line x1="195.1" y1="2051.2" x2="216.5" y2="2051.2" stroke="#000" stroke-width="3.2" />
<text x="270.4" y="148.0" fill="#000" stroke="#000" stroke-width="0.45" font-size="27" textLength="64.5" lengthAdjust="spacingAndGlyphs" font-style="italic" >1000'</text>
<text x="270.4" y="547.5" fill="#000" stroke="#000" stroke-width="0.45" font-size="27" textLength="51.5" lengthAdjust="spacingAndGlyphs" font-style="italic" >800'</text>
<text x="270.4" y="947.5" fill="#000" stroke="#000" stroke-width="0.45" font-size="27" textLength="51.5" lengthAdjust="spacingAndGlyphs" font-style="italic" >600'</text>
<text x="270.4" y="1347.3" fill="#000" stroke="#000" stroke-width="0.45" font-size="27" textLength="51.5" lengthAdjust="spacingAndGlyphs" font-style="italic" >400'</text>
<text x="270.4" y="1758.7" fill="#000" stroke="#000" stroke-width="0.45" font-size="27" textLength="51.5" lengthAdjust="spacingAndGlyphs" font-style="italic" >200'</text>
<text x="270.4" y="1959.4" fill="#000" stroke="#000" stroke-width="0.45" font-size="27" textLength="51.5" lengthAdjust="spacingAndGlyphs" font-style="italic" >100'</text>
<text x="270.4" y="2147.7" fill="#000" stroke="#000" stroke-width="0.45" font-size="27" font-style="italic" >0</text>
<text x="395.6" y="454.4" fill="#000" stroke="#000" stroke-width="0.45" font-size="27.5" textLength="311.4" lengthAdjust="spacingAndGlyphs" font-style="italic" >CAROLINE COPE FARM</text>
<text transform="translate(1074.6,1374.5) rotate(-90)" fill="#000" stroke="#000" stroke-width="0.4" font-size="29" font-style="italic" textLength="256" lengthAdjust="spacingAndGlyphs">WASHINGTON LANE</text>
<polyline points="1019.2,44.0 1019.2,2161.9 994.4,2161.9 810.0,2148.0 336.0,2036.0" fill="none" stroke="#000" stroke-width="1.9" />
<polyline points="1103.2,44.0 1103.2,2161.3 1130.8,2161.3 1295.0,2183.5 1557.8,2251.2" fill="none" stroke="#000" stroke-width="1.6" />
<polyline points="1118.6,44 1118.6,2146.4 1294.8,2167.9 1513.5,2222.2" fill="none" stroke="#000" stroke-width="7" stroke-linejoin="miter"/>
<circle cx="1513.5" cy="2222.2" r="3.4" fill="#000"/>
<rect x="1114" y="1450" width="9" height="4.6" fill="#fff"/>
<rect x="772.2" y="183" width="25.6" height="25" rx="2.5" fill="#000"/>
<rect x="780.7" y="190.8" width="8.6" height="9" fill="#fff"/>
<path d="M797.8,191.8C800.3,191.6 807.8,191.3 812.8,190.7C817.8,190.1 823.1,187.7 827.8,188.1C832.4,188.5 836.1,190.8 840.7,192.9C845.4,195.1 851.8,197.8 855.7,201.0C859.6,204.2 862.3,207.8 864.3,212.1C866.3,216.4 867.1,222.1 867.5,227.1C867.9,232.1 866.9,237.1 866.4,242.1C865.9,247.1 864.7,251.0 864.3,257.1C863.9,263.2 863.1,271.8 863.8,278.6C864.5,285.4 866.3,291.4 868.5,297.8C870.7,304.2 873.9,309.6 877.1,317.1C880.3,324.6 884.9,334.2 887.8,342.8C890.7,351.4 892.6,359.6 894.3,368.5C896.0,377.4 897.2,384.6 897.9,396.4C898.6,408.2 898.8,427.4 898.5,439.2C898.2,451.0 896.9,458.2 896.4,467.1C895.9,476.0 895.5,484.2 895.3,492.8C895.1,501.4 895.3,514.6 895.3,519.0" fill="none" stroke="#000" stroke-width="2.3" stroke-linecap="round" stroke-linejoin="round" />
<path d="M797.8,199.3C799.9,199.4 807.0,199.0 810.7,199.9C814.5,200.8 818.0,202.2 820.3,204.6C822.5,207.0 823.8,210.6 824.2,214.3C824.6,218.1 823.5,222.5 822.5,227.1C821.5,231.7 819.0,237.4 818.2,242.1C817.4,246.8 816.9,250.7 817.6,255.0C818.3,259.3 819.7,263.2 822.5,267.8C825.3,272.4 830.2,277.8 834.3,282.8C838.4,287.8 843.2,292.8 847.1,297.8C851.0,302.8 854.9,307.4 857.8,312.8C860.7,318.2 862.3,322.9 864.3,330.0C866.3,337.1 867.8,347.1 869.6,355.7C871.4,364.3 873.0,372.1 875.0,381.4C877.0,390.7 879.5,401.8 881.4,411.4C883.3,421.0 885.3,431.0 886.3,439.2C887.3,447.4 887.2,447.4 887.4,460.7C887.6,474.0 887.4,509.3 887.4,519.0" fill="none" stroke="#000" stroke-width="2.3" stroke-linecap="round" stroke-linejoin="round" />
<line x1="874.8" y1="522.5" x2="908.5" y2="522.5" stroke="#000" stroke-width="6.6" stroke-linecap="round"/>
<line x1="874.8" y1="584.6" x2="908.5" y2="584.6" stroke="#000" stroke-width="7" stroke-linecap="round"/>
<line x1="891.4" y1="526.0" x2="891.4" y2="581.0" stroke="#000" stroke-width="2.6" stroke-dasharray="5.2 1.4"/>
<path d="M887.7,588.1C888.2,590.8 889.3,599.0 890.6,604.5C891.9,610.0 893.7,615.4 895.5,620.8C897.3,626.2 899.8,631.7 901.2,637.1C902.6,642.5 903.5,646.3 904.0,653.4C904.5,660.5 903.9,671.9 904.0,679.5C904.1,687.1 903.9,692.6 904.5,699.1C905.1,705.6 906.5,712.2 907.7,718.7C908.9,725.2 910.7,732.8 911.8,738.3C912.9,743.8 912.9,747.4 914.3,751.4C915.7,755.4 917.1,759.1 920.0,762.0C922.9,764.9 927.3,767.1 931.4,768.5C935.5,769.9 940.1,770.5 944.5,770.6C948.9,770.7 953.4,770.0 957.5,769.3C961.6,768.6 965.6,766.9 968.9,766.4C972.2,765.9 974.6,765.5 977.1,766.4C979.6,767.3 981.8,769.1 983.6,771.8C985.4,774.5 987.0,778.3 987.7,782.4C988.5,786.5 988.6,788.5 988.1,796.3C987.6,804.1 986.2,819.8 984.9,829.0C983.5,838.2 981.4,845.3 980.0,851.8C978.6,858.3 977.5,862.6 976.7,868.1C975.9,873.6 975.4,878.5 975.4,884.5C975.4,890.5 976.4,898.0 976.7,904.0C977.1,910.0 977.0,914.9 977.5,920.4C978.0,925.9 979.0,932.1 980.0,936.7C981.0,941.3 981.7,945.0 983.2,948.1C984.7,951.2 987.2,953.6 989.0,955.5C990.8,957.4 993.2,958.8 994.0,959.5" fill="none" stroke="#000" stroke-width="2.3" stroke-linecap="round" stroke-linejoin="round" />
<path d="M897.1,588.1C897.8,590.8 899.8,598.5 901.2,604.5C902.6,610.5 903.9,617.5 905.3,624.0C906.7,630.5 908.2,636.5 909.4,643.6C910.6,650.7 911.8,659.4 912.6,666.5C913.4,673.6 913.6,679.6 914.3,686.1C915.0,692.6 915.9,699.7 916.7,705.7C917.5,711.7 918.1,717.1 919.2,722.0C920.3,726.9 921.4,731.2 923.2,735.0C925.0,738.8 927.3,742.2 929.8,744.8C932.2,747.4 934.4,749.4 937.9,750.5C941.4,751.6 946.6,751.5 951.0,751.4C955.4,751.3 959.9,750.0 964.0,749.7C968.1,749.4 971.7,749.0 975.5,749.4C979.3,749.8 983.6,750.8 986.9,752.2C990.2,753.6 992.9,755.3 995.1,757.9C997.3,760.5 999.0,763.9 1000.0,767.7C1001.0,771.5 1001.2,774.6 1001.3,780.7C1001.4,786.8 1000.4,797.3 1000.4,804.5C1000.4,811.7 1000.7,817.8 1001.2,824.0C1001.7,830.2 1002.9,836.3 1003.6,842.0C1004.3,847.7 1004.9,852.8 1005.3,858.3C1005.7,863.8 1005.9,868.7 1005.8,874.7C1005.7,880.7 1005.0,888.3 1004.5,894.3C1004.0,900.3 1003.6,905.7 1002.8,910.6C1002.0,915.5 1000.4,919.5 999.6,923.6C998.8,927.7 998.2,931.6 997.9,935.0C997.6,938.4 997.6,942.5 997.6,944.0" fill="none" stroke="#000" stroke-width="2.3" stroke-linecap="round" stroke-linejoin="round" />
<line x1="1002.0" y1="960.8" x2="1238.7" y2="960.8" stroke="#000" stroke-width="3" stroke-dasharray="8 1.7"/>
<polyline points="1238.7,960.8 1273.8,995.5 1273.8,1009.0" fill="none" stroke="#000" stroke-width="2.6" />
<line x1="1002.0" y1="959.8" x2="1167.7" y2="1057.5" stroke="#000" stroke-width="2.5" stroke-dasharray="6 1.3"/>
<line x1="1003.1" y1="944.5" x2="991.0" y2="972.3" stroke="#000" stroke-width="8.4" />
<line x1="1003.1" y1="946.0" x2="991.0" y2="971.0" stroke="#fff" stroke-width="0.9" stroke-dasharray="1.2 1.6"/>
<line x1="1174.2" y1="1043.8" x2="1162.2" y2="1071.5" stroke="#000" stroke-width="8.4" />
<line x1="1174.2" y1="1045.0" x2="1162.2" y2="1070.0" stroke="#fff" stroke-width="0.9" stroke-dasharray="1.2 1.6"/>
<path transform="translate(1173.5,1051.7) rotate(16.76)" d="M0.0,-2.5H15.9M0.0,2.5H15.9M0.0,-2.5V2.5M21.9,-2.5H37.8M21.9,2.5H37.8M37.8,-2.5V2.5" fill="none" stroke="#ff4a10" stroke-width="1.2"/>
<path transform="translate(1165.4,1070.2) rotate(18.30)" d="M0.0,-2.5H17.3M0.0,2.5H17.3M0.0,-2.5V2.5M23.8,-2.5H41.1M23.8,2.5H41.1M41.1,-2.5V2.5" fill="none" stroke="#ff4a10" stroke-width="1.2"/>
<path d="M1264,1008.6h18.8v7.3h-12.2v10.6h-6.6z" fill="#000" stroke="#000" stroke-width="1.5" stroke-linejoin="round"/>
<path d="M1172.6,1056.7C1175.3,1057.1 1183.5,1058.1 1189.0,1059.2C1194.5,1060.3 1200.4,1061.6 1205.3,1063.2C1210.2,1064.8 1213.9,1067.1 1218.3,1068.9C1222.7,1070.7 1227.6,1072.8 1231.4,1073.8C1235.2,1074.8 1237.9,1075.4 1241.2,1075.1C1244.5,1074.8 1248.2,1073.8 1251.0,1072.2C1253.8,1070.6 1256.5,1068.4 1258.3,1065.7C1260.1,1063.0 1260.6,1059.7 1261.6,1055.9C1262.5,1052.1 1263.0,1047.2 1264.0,1042.8C1265.0,1038.4 1266.5,1032.8 1267.3,1029.8C1268.1,1026.8 1268.6,1025.7 1268.9,1024.9" fill="none" stroke="#000" stroke-width="2.5" stroke-linecap="round" stroke-linejoin="round" />
<path d="M1171.0,1060.8C1171.7,1061.6 1172.6,1064.1 1175.1,1065.7C1177.5,1067.3 1181.2,1068.7 1185.7,1070.6C1190.2,1072.5 1196.6,1074.8 1202.0,1077.1C1207.4,1079.4 1213.1,1081.8 1218.3,1084.4C1223.5,1087.0 1228.9,1089.7 1233.0,1092.6C1237.1,1095.5 1240.2,1098.2 1242.8,1101.6C1245.4,1105.0 1247.3,1108.9 1248.5,1113.0C1249.7,1117.1 1250.5,1121.8 1250.2,1126.1C1249.9,1130.4 1248.7,1134.8 1246.9,1139.1C1245.1,1143.4 1242.4,1148.1 1239.6,1152.2C1236.8,1156.3 1233.3,1160.1 1229.8,1163.6C1226.2,1167.1 1221.6,1170.4 1218.3,1173.4C1215.0,1176.4 1212.2,1178.6 1210.2,1181.6C1208.2,1184.6 1206.6,1187.6 1206.1,1191.4C1205.5,1195.2 1206.0,1200.6 1206.9,1204.4C1207.9,1208.2 1209.1,1211.1 1211.8,1214.2C1214.5,1217.3 1218.8,1220.6 1223.2,1223.2C1227.6,1225.8 1233.8,1227.7 1237.9,1229.7C1242.0,1231.7 1245.4,1233.4 1247.7,1235.4C1250.0,1237.5 1251.4,1239.5 1251.8,1242.0C1252.2,1244.5 1252.0,1247.4 1250.2,1250.1C1248.4,1252.8 1244.9,1255.5 1241.2,1258.0C1237.5,1260.5 1233.0,1263.1 1228.1,1265.3C1223.2,1267.5 1216.1,1268.7 1211.8,1271.0C1207.5,1273.3 1204.8,1275.7 1202.0,1279.2C1199.2,1282.7 1196.5,1287.6 1194.7,1292.2C1192.9,1296.8 1191.7,1302.8 1191.4,1306.9C1191.1,1311.0 1191.5,1314.0 1193.0,1316.7C1194.5,1319.4 1197.0,1321.6 1200.4,1323.2C1203.8,1324.8 1208.2,1325.8 1213.4,1326.5C1218.6,1327.2 1226.0,1326.9 1231.4,1327.3C1236.9,1327.7 1242.0,1327.9 1246.1,1329.0C1250.2,1330.1 1253.3,1331.9 1255.9,1333.9C1258.5,1335.9 1260.6,1338.6 1261.6,1341.2C1262.5,1343.8 1262.4,1346.8 1261.6,1349.4C1260.8,1352.0 1259.3,1354.5 1256.7,1356.7C1254.1,1358.9 1249.8,1360.5 1246.1,1362.4C1242.4,1364.3 1237.8,1365.6 1234.7,1368.1C1231.6,1370.5 1228.9,1374.0 1227.3,1377.1C1225.7,1380.2 1225.1,1383.6 1225.2,1386.9C1225.3,1390.2 1226.2,1394.2 1228.1,1396.7C1229.9,1399.2 1233.3,1400.0 1236.3,1401.6C1239.3,1403.2 1243.4,1404.6 1246.1,1406.5C1248.8,1408.4 1250.8,1410.5 1252.6,1413.0C1254.4,1415.5 1255.8,1419.0 1256.7,1421.2C1257.7,1423.4 1258.0,1425.2 1258.3,1426.0" fill="none" stroke="#000" stroke-width="2.5" stroke-linecap="round" stroke-linejoin="round" />
<path d="M1278.7,1015.9C1279.0,1018.5 1279.6,1026.1 1280.4,1031.4C1281.2,1036.7 1282.2,1042.8 1283.6,1047.7C1284.9,1052.6 1286.3,1056.7 1288.5,1060.8C1290.7,1064.9 1293.7,1068.9 1296.7,1072.2C1299.7,1075.5 1303.9,1077.1 1306.5,1080.4C1309.1,1083.7 1310.7,1087.5 1312.2,1091.8C1313.7,1096.1 1314.8,1101.3 1315.5,1106.5C1316.2,1111.7 1316.0,1117.9 1316.3,1122.8C1316.6,1127.7 1316.3,1132.8 1317.1,1135.9C1317.9,1139.0 1318.6,1140.2 1321.2,1141.6C1323.8,1142.9 1328.5,1142.9 1332.6,1144.0C1336.7,1145.1 1341.6,1146.3 1345.7,1148.1C1349.8,1149.9 1354.2,1152.0 1357.1,1154.6C1359.9,1157.2 1362.0,1160.5 1362.8,1163.6C1363.6,1166.7 1363.0,1170.5 1362.0,1173.4C1361.0,1176.3 1358.9,1178.3 1357.1,1180.8C1355.3,1183.2 1352.0,1185.7 1351.4,1188.1C1350.9,1190.5 1352.2,1192.7 1353.8,1195.4C1355.4,1198.1 1359.6,1200.7 1361.2,1204.4C1362.8,1208.1 1363.3,1212.9 1363.6,1217.5C1363.9,1222.1 1363.5,1227.9 1362.8,1232.2C1362.1,1236.5 1361.0,1240.6 1359.5,1243.6C1358.0,1246.6 1355.6,1248.7 1353.8,1250.1C1352.0,1251.5 1350.8,1252.2 1348.9,1251.8C1347.0,1251.4 1344.9,1249.2 1342.4,1247.7C1340.0,1246.2 1336.9,1243.5 1334.2,1242.8C1331.5,1242.1 1329.6,1242.5 1326.1,1243.3C1322.6,1244.1 1315.6,1245.5 1313.0,1247.7C1310.4,1249.9 1310.5,1253.5 1310.6,1256.3C1310.7,1259.1 1312.0,1261.5 1313.8,1264.5C1315.6,1267.5 1318.3,1271.0 1321.2,1274.3C1324.1,1277.6 1328.0,1280.8 1331.0,1284.1C1334.0,1287.4 1336.9,1290.6 1339.1,1293.9C1341.3,1297.2 1342.9,1300.7 1344.0,1303.7C1345.1,1306.7 1345.7,1308.8 1345.7,1311.8C1345.7,1314.8 1345.1,1318.3 1344.0,1321.6C1342.9,1324.9 1341.5,1328.1 1339.1,1331.4C1336.6,1334.7 1333.1,1338.2 1329.3,1341.2C1325.5,1344.2 1320.6,1346.7 1316.3,1349.4C1312.0,1352.1 1307.3,1354.5 1303.2,1357.5C1299.1,1360.5 1295.1,1364.0 1291.8,1367.3C1288.5,1370.6 1285.9,1373.6 1283.6,1377.1C1281.3,1380.6 1279.5,1384.4 1277.9,1388.5C1276.3,1392.6 1275.0,1397.2 1273.8,1401.6C1272.6,1406.0 1271.3,1410.8 1270.6,1414.7C1269.9,1418.6 1269.9,1423.3 1269.8,1425.0" fill="none" stroke="#000" stroke-width="2.5" stroke-linecap="round" stroke-linejoin="round" />
<path d="M1257.5,1426.0C1257.7,1429.0 1257.6,1437.5 1258.6,1444.0C1259.5,1450.5 1261.8,1458.4 1263.2,1465.2C1264.7,1472.0 1265.8,1478.8 1267.3,1484.8C1268.8,1490.8 1270.4,1495.8 1272.2,1501.2C1274.0,1506.7 1276.4,1513.3 1277.9,1517.5C1279.4,1521.7 1280.5,1525.0 1281.0,1526.5" fill="none" stroke="#000" stroke-width="5.2" stroke-linejoin="round" stroke-linecap="butt"/>
<path d="M1271.4,1425.0C1271.8,1427.6 1272.6,1435.2 1273.8,1440.8C1275.0,1446.4 1276.8,1453.0 1278.7,1458.7C1280.6,1464.4 1283.2,1469.8 1285.3,1475.0C1287.3,1480.2 1289.5,1485.1 1291.0,1489.7C1292.5,1494.3 1293.5,1498.2 1294.2,1502.8C1294.9,1507.4 1295.0,1513.2 1295.1,1517.5C1295.2,1521.8 1295.0,1526.7 1295.0,1528.5" fill="none" stroke="#000" stroke-width="5.2" stroke-linejoin="round" stroke-linecap="butt"/>
<path d="M1282.6,1526.5C1281.4,1527.2 1276.9,1528.0 1275.3,1530.6C1273.7,1533.2 1273.5,1536.6 1272.8,1542.0C1272.1,1547.4 1271.6,1557.0 1271.2,1563.2C1270.8,1569.5 1270.0,1574.9 1270.4,1579.5C1270.8,1584.1 1271.8,1587.5 1273.6,1591.0C1275.4,1594.5 1278.5,1598.2 1281.0,1600.8C1283.5,1603.4 1286.3,1605.0 1288.3,1606.5C1290.3,1608.0 1292.4,1609.2 1293.2,1609.7" fill="none" stroke="#000" stroke-width="5.6" stroke-linecap="round" stroke-linejoin="round" />
<path d="M1295.0,1527.5C1296.2,1527.7 1299.8,1527.9 1302.2,1528.9C1304.6,1530.0 1307.0,1531.3 1309.5,1533.8C1312.0,1536.2 1314.0,1541.3 1316.9,1543.6C1319.8,1545.9 1323.2,1546.3 1326.7,1547.7C1330.2,1549.1 1335.0,1549.9 1338.1,1551.8C1341.2,1553.7 1343.8,1556.4 1345.4,1559.1C1347.0,1561.8 1347.6,1565.0 1347.9,1568.1C1348.2,1571.2 1348.2,1574.6 1347.1,1577.9C1346.0,1581.2 1344.0,1584.9 1341.4,1587.7C1338.8,1590.5 1335.4,1592.4 1331.6,1595.0C1327.8,1597.6 1322.3,1601.1 1318.5,1603.2C1314.7,1605.3 1310.9,1606.6 1308.7,1607.6C1306.5,1608.5 1306.0,1608.7 1305.4,1608.9" fill="none" stroke="#000" stroke-width="5.6" stroke-linecap="round" stroke-linejoin="round" />
<path d="M1292.6,1609.7C1292.5,1610.9 1291.7,1614.0 1291.8,1617.1C1291.9,1620.2 1291.7,1623.9 1293.2,1628.5C1294.7,1633.1 1298.5,1639.5 1300.6,1644.8C1302.7,1650.0 1304.7,1653.8 1306.0,1660.0C1307.3,1666.2 1308.2,1673.4 1308.6,1682.0C1309.0,1690.6 1308.1,1703.8 1308.6,1711.4C1309.1,1719.0 1310.3,1722.5 1311.8,1727.7C1313.3,1732.9 1315.6,1738.6 1317.5,1742.4C1319.4,1746.2 1322.0,1747.1 1323.2,1750.6C1324.4,1754.1 1323.9,1759.2 1324.9,1763.6C1325.9,1767.9 1327.0,1772.6 1329.0,1776.7C1331.0,1780.8 1334.5,1784.7 1337.1,1788.1C1339.7,1791.5 1343.0,1793.0 1344.5,1797.1C1346.0,1801.2 1345.0,1807.8 1346.1,1812.6C1347.2,1817.4 1348.8,1821.9 1351.0,1825.7C1353.2,1829.5 1356.6,1832.8 1359.1,1835.4C1361.5,1838.0 1363.0,1838.5 1365.7,1841.2C1368.4,1843.9 1372.2,1847.6 1375.5,1851.8C1378.8,1856.0 1382.0,1862.2 1385.3,1866.5C1388.6,1870.8 1391.0,1874.7 1395.1,1877.9C1399.2,1881.2 1405.1,1883.8 1409.7,1886.0C1414.3,1888.2 1419.0,1889.4 1422.8,1890.9C1426.6,1892.4 1431.0,1894.3 1432.6,1895.0" fill="none" stroke="#000" stroke-width="5.2" stroke-linecap="round" stroke-linejoin="round" />
<path d="M1305.4,1608.9C1305.6,1610.8 1305.0,1616.4 1306.3,1620.4C1307.6,1624.4 1311.1,1628.5 1313.4,1633.1C1315.7,1637.6 1318.0,1642.8 1320.0,1647.7C1322.0,1652.6 1324.2,1657.0 1325.7,1662.4C1327.2,1667.9 1328.4,1673.9 1329.0,1680.4C1329.6,1686.9 1329.1,1694.8 1329.4,1701.6C1329.8,1708.4 1330.3,1714.7 1331.1,1721.2C1331.9,1727.7 1333.2,1735.9 1334.3,1740.8C1335.4,1745.7 1336.2,1747.1 1337.9,1750.6C1339.6,1754.1 1342.5,1757.9 1344.5,1762.0C1346.5,1766.1 1348.7,1770.7 1350.2,1775.0C1351.7,1779.3 1352.5,1784.3 1353.4,1788.1C1354.4,1791.9 1355.1,1794.1 1355.9,1797.9C1356.7,1801.7 1357.0,1806.9 1358.3,1811.0C1359.6,1815.1 1361.7,1819.0 1364.0,1822.4C1366.3,1825.8 1369.2,1828.8 1372.2,1831.4C1375.2,1834.0 1378.2,1835.9 1382.0,1837.9C1385.8,1839.9 1390.5,1841.4 1395.1,1843.6C1399.7,1845.8 1405.3,1848.4 1409.7,1851.0C1414.1,1853.6 1417.7,1856.0 1421.2,1859.1C1424.8,1862.2 1428.3,1866.3 1431.0,1869.7C1433.7,1873.1 1436.4,1877.9 1437.5,1879.5" fill="none" stroke="#000" stroke-width="3" stroke-linecap="round" stroke-linejoin="round" />
<polygon points="1324.9,1751.9 1336.1,1746.5 1334.3,1742.7 1323.1,1748.1" fill="#fff" stroke="#000" stroke-width="1.6"/>
<polygon points="1345.0,1800.6 1356.8,1799.6 1356.4,1795.4 1344.6,1796.4" fill="#fff" stroke="#000" stroke-width="1.6"/>
<polygon points="1366.0,1839.6 1374.5,1830.4 1371.5,1827.6 1363.0,1836.8" fill="#fff" stroke="#000" stroke-width="1.6"/>
<path d="M1451.9,1884.0C1455.1,1884.8 1463.1,1887.2 1471.1,1888.8C1479.1,1890.4 1491.0,1891.7 1499.9,1893.6C1508.9,1895.5 1517.5,1897.3 1524.8,1900.3C1532.1,1903.3 1538.2,1907.6 1544.0,1911.8C1549.8,1916.0 1555.2,1920.4 1559.4,1925.2C1563.6,1930.0 1566.9,1935.5 1569.0,1940.6C1571.1,1945.7 1571.8,1950.2 1571.8,1956.0C1571.8,1961.8 1570.8,1969.0 1569.0,1975.1C1567.2,1981.2 1564.8,1986.0 1561.3,1992.4C1557.8,1998.8 1552.7,2006.5 1547.9,2013.5C1543.1,2020.5 1538.0,2027.6 1532.5,2034.6C1527.0,2041.6 1521.3,2049.0 1515.2,2055.7C1509.1,2062.4 1502.7,2069.1 1496.0,2074.9C1489.3,2080.7 1482.2,2085.8 1474.9,2090.3C1467.6,2094.8 1459.6,2098.6 1451.9,2101.8C1444.2,2105.0 1436.2,2107.1 1428.9,2109.5C1421.6,2111.9 1413.1,2114.3 1407.8,2116.2C1402.5,2118.1 1399.9,2118.9 1397.2,2121.0C1394.5,2123.1 1393.2,2124.9 1391.5,2128.7C1389.8,2132.5 1388.6,2137.9 1386.7,2144.0C1384.8,2150.1 1382.0,2159.3 1379.9,2165.1C1377.8,2170.9 1375.2,2176.7 1374.2,2179.0" fill="none" stroke="#000" stroke-width="5.4" stroke-linejoin="round" stroke-linecap="butt"/>
<path d="M1445.2,1901.3C1447.9,1902.9 1455.9,1907.6 1461.5,1910.9C1467.1,1914.2 1474.6,1918.2 1478.8,1921.4C1483.0,1924.6 1485.3,1927.1 1486.4,1930.0C1487.5,1932.9 1486.8,1936.0 1485.5,1938.7C1484.2,1941.4 1481.8,1944.7 1478.8,1946.4C1475.8,1948.2 1472.4,1948.9 1467.3,1949.2C1462.2,1949.5 1454.5,1948.9 1448.1,1948.3C1441.7,1947.7 1435.6,1946.5 1428.9,1945.4C1422.2,1944.3 1415.5,1942.2 1407.8,1941.6C1400.1,1941.0 1390.8,1941.0 1382.8,1941.6C1374.8,1942.2 1367.5,1943.0 1359.8,1945.4C1352.1,1947.8 1344.1,1951.7 1336.8,1956.0C1329.5,1960.3 1321.6,1965.5 1315.7,1971.3C1309.8,1977.0 1305.3,1983.5 1301.3,1990.5C1297.3,1997.5 1294.1,2005.8 1291.7,2013.5C1289.3,2021.2 1287.7,2029.5 1286.9,2036.5C1286.1,2043.5 1286.0,2049.6 1286.9,2055.7C1287.9,2061.8 1289.7,2067.6 1292.6,2073.0C1295.5,2078.4 1299.6,2083.6 1304.1,2088.4C1308.6,2093.2 1314.7,2098.0 1319.5,2101.8C1324.3,2105.6 1329.2,2108.4 1332.9,2111.4C1336.6,2114.4 1339.7,2117.1 1341.6,2120.0C1343.5,2122.9 1344.1,2125.3 1344.4,2128.7C1344.7,2132.1 1344.5,2135.4 1343.5,2140.2C1342.5,2145.0 1340.2,2152.5 1338.7,2157.4C1337.2,2162.3 1335.2,2167.5 1334.5,2169.5" fill="none" stroke="#000" stroke-width="5.4" stroke-linejoin="round" stroke-linecap="butt"/>
<polygon points="1441.3,1875.4 1452.9,1882.1 1440.4,1903.2 1428.9,1896.5" fill="#fff" stroke="#000" stroke-width="3"/>
<rect x="1349.8" y="2119" width="39.2" height="10.5" fill="#fff" stroke="#000" stroke-width="3"/>
<rect x="1129.2" y="1436.2" width="8.1" height="33.7" rx="1.5" fill="#000"/>
<path d="M1167.5,1445.7Q1153.7,1455.4 1159.4,1471.8" fill="none" stroke="#000" stroke-width="7.6" stroke-linecap="butt"/>
<path d="M1201.0,1463.7Q1183.4,1466.5 1183.9,1484.1" fill="none" stroke="#000" stroke-width="7.6" stroke-linecap="butt"/>
<path d="M1231.2,1492.7Q1212.8,1495.2 1212.4,1508.5" fill="none" stroke="#000" stroke-width="7.6" stroke-linecap="butt"/>
<path d="M1251.6,1512.6Q1238.5,1517.2 1238.5,1529.8" fill="none" stroke="#000" stroke-width="7.6" stroke-linecap="butt"/>
<polyline points="1261.1,1540.0 1261.0,1540.1 1260.8,1540.2 1260.6,1540.3 1260.4,1540.4 1260.2,1540.5 1260.0,1540.5 1259.8,1540.5 1259.5,1540.4 1259.3,1540.4 1259.1,1540.3 1258.9,1540.2 1258.7,1540.0 1258.5,1539.8 1258.3,1539.6 1258.2,1539.4 1258.0,1539.1 1257.9,1538.9 1257.9,1538.6 1257.9,1538.3 1257.9,1538.0 1258.0,1537.7 1258.1,1537.4 1258.2,1537.1 1258.4,1536.8 1258.6,1536.5 1258.9,1536.3 1259.1,1536.1 1259.5,1535.9 1259.8,1535.8 1260.1,1535.7 1260.5,1535.6 1260.9,1535.6 1261.3,1535.7 1261.7,1535.8 1262.0,1535.9 1262.4,1536.1 1262.7,1536.4 1263.0,1536.6 1263.3,1537.0 1263.5,1537.3 1263.7,1537.7 1263.9,1538.1 1264.0,1538.6 1264.0,1539.0 1264.0,1539.5 1263.9,1539.9 1263.8,1540.4 1263.6,1540.8 1263.3,1541.2 1263.0,1541.6 1262.7,1542.0 1262.3,1542.3 1261.9,1542.6 1261.4,1542.8 1260.9,1542.9 1260.4,1543.0 1259.9,1543.0 1259.3,1543.0 1258.8,1542.9 1258.3,1542.7 1257.8,1542.5 1257.3,1542.2 1256.8,1541.8 1256.4,1541.4 1256.1,1541.0 1255.8,1540.4 1255.6,1539.9 1255.4,1539.3 1255.3,1538.7 1255.3,1538.1 1255.4,1537.5 1255.5,1536.9 1255.7,1536.3 1256.0,1535.7 1256.4,1535.2 1256.8,1534.7 1257.3,1534.3 1257.8,1533.9 1258.4,1533.6 1259.0,1533.3 1259.7,1533.2 1260.4,1533.1 1261.1,1533.1 1261.8,1533.2 1262.4,1533.3 1263.1,1533.6 1263.7,1533.9 1264.3,1534.3 1264.9,1534.8 1265.3,1535.4 1265.8,1536.0 1266.1,1536.7 1266.3,1537.4 1266.5,1538.1 1266.6,1538.9 1266.6,1539.6 1266.4,1540.4 1266.2,1541.2 1265.9,1541.9 1265.5,1542.6 1265.1,1543.2 1264.5,1543.8 1263.9,1544.3 1263.2,1544.8 1262.4,1545.1 1261.7,1545.4 1260.8,1545.6 1260.0,1545.6 1259.1,1545.6 1258.3,1545.4 1257.5,1545.2 1256.7,1544.9 1255.9,1544.4 1255.2,1543.9 1254.6,1543.2 1254.0,1542.5 1253.6,1541.8 1253.2,1540.9 1252.9,1540.1 1252.8,1539.2 1252.7,1538.2 1252.8,1537.3 1253.0,1536.4 1253.2,1535.5 1253.6,1534.6 1254.2,1533.8 1254.8,1533.1 1255.4,1532.4 1256.2,1531.8 1257.1,1531.3 1258.0,1530.9 1258.9,1530.7 1259.9,1530.5 1260.9,1530.5 1261.9,1530.6 1262.9,1530.8 1263.9,1531.1 1264.8,1531.6 1265.7,1532.1" fill="none" stroke="#0a600a" stroke-width="1.9"/>
<circle cx="1260.3" cy="1538.7" r="9" fill="none" stroke="#0a6a0a" stroke-width="1.6"/>
<polyline points="1530.0,105.0 1589.7,80.4 1589.7,784.5 2049.0,663.0 2049.0,2195.5 1975.7,2164.3" fill="none" stroke="#1f801f" stroke-width="1.4" />
<polyline points="566.0,592.0 506.0,564.5 506.0,1994.0 556.8,1976.3" fill="none" stroke="#ff7a00" stroke-width="1.6" />
<line x1="1198.6" y1="187.1" x2="799.6" y2="187.1" stroke="#1b981b" stroke-width="1.8" />
<polyline points="809.9,176.8 799.6,187.1 809.9,197.4" fill="none" stroke="#1b981b" stroke-width="1.8" stroke-linecap="butt"/>
<line x1="1198.6" y1="309.0" x2="878.2" y2="309.0" stroke="#1b981b" stroke-width="1.8" />
<polyline points="888.5,298.7 878.2,309.0 888.5,319.3" fill="none" stroke="#1b981b" stroke-width="1.8" stroke-linecap="butt"/>
<line x1="1174.6" y1="557.2" x2="911.3" y2="522.9" stroke="#1b981b" stroke-width="1.7" />
<polyline points="922.8,514.1 911.3,522.9 920.1,534.4" fill="none" stroke="#1b981b" stroke-width="1.7" stroke-linecap="butt"/>
<line x1="1174.6" y1="557.2" x2="900.9" y2="557.3" stroke="#157a15" stroke-width="1.2" />
<polyline points="911.1,547.0 900.9,557.3 911.2,567.5" fill="none" stroke="#157a15" stroke-width="1.2" stroke-linecap="butt"/>
<line x1="1174.6" y1="557.2" x2="911.3" y2="583.2" stroke="#1b981b" stroke-width="1.7" />
<polyline points="920.5,572.0 911.3,583.2 922.5,592.4" fill="none" stroke="#1b981b" stroke-width="1.7" stroke-linecap="butt"/>
<line x1="1174.6" y1="557.2" x2="1198.6" y2="557.2" stroke="#1b981b" stroke-width="1.4" />
<line x1="1198.6" y1="753.3" x2="973.5" y2="753.3" stroke="#157a15" stroke-width="1.2" />
<polyline points="983.8,743.0 973.5,753.3 983.8,763.6" fill="none" stroke="#157a15" stroke-width="1.2" stroke-linecap="butt"/>
<line x1="1260.9" y1="867.0" x2="1620.2" y2="867.0" stroke="#157a15" stroke-width="1.3" />
<line x1="1260.9" y1="867.0" x2="1007.7" y2="945.7" stroke="#157a15" stroke-width="1.3" />
<polyline points="1015.3,933.9 1007.7,945.7 1020.6,951.1" fill="none" stroke="#157a15" stroke-width="1.3" stroke-linecap="butt"/>
<line x1="1260.9" y1="867.0" x2="1171.4" y2="1042.0" stroke="#157a15" stroke-width="1.3" />
<polyline points="1168.3,1028.4 1171.4,1042.0 1184.3,1036.5" fill="none" stroke="#157a15" stroke-width="1.3" stroke-linecap="butt"/>
<line x1="1621.5" y1="1013.8" x2="1286.4" y2="1013.8" stroke="#1b981b" stroke-width="1.9" />
<polyline points="1296.7,1003.5 1286.4,1013.8 1296.7,1024.1" fill="none" stroke="#1b981b" stroke-width="1.9" stroke-linecap="butt"/>
<line x1="1621.5" y1="1160.0" x2="1367.2" y2="1160.0" stroke="#1b981b" stroke-width="1.9" />
<polyline points="1377.5,1149.7 1367.2,1160.0 1377.5,1170.3" fill="none" stroke="#1b981b" stroke-width="1.9" stroke-linecap="butt"/>
<line x1="1607.3" y1="1298.4" x2="1621.5" y2="1298.4" stroke="#157a15" stroke-width="1.4" />
<line x1="1607.3" y1="1298.4" x2="1324.1" y2="1210.9" stroke="#157a15" stroke-width="1.4" />
<polyline points="1337.0,1205.5 1324.1,1210.9 1331.7,1222.7" fill="none" stroke="#157a15" stroke-width="1.4" stroke-linecap="butt"/>
<line x1="1607.3" y1="1298.4" x2="1330.2" y2="1388.2" stroke="#157a15" stroke-width="1.4" />
<polyline points="1337.6,1376.3 1330.2,1388.2 1343.2,1393.5" fill="none" stroke="#157a15" stroke-width="1.4" stroke-linecap="butt"/>
<line x1="1607.3" y1="1298.4" x2="1312.2" y2="1512.3" stroke="#157a15" stroke-width="1.4" />
<polyline points="1315.6,1498.7 1312.2,1512.3 1326.2,1513.3" fill="none" stroke="#157a15" stroke-width="1.4" stroke-linecap="butt"/>
<line x1="1621.6" y1="1535.1" x2="1282.2" y2="1535.1" stroke="#1b981b" stroke-width="2" />
<polyline points="1292.5,1524.8 1282.2,1535.1 1292.5,1545.4" fill="none" stroke="#1b981b" stroke-width="2" stroke-linecap="butt"/>
<line x1="1621.6" y1="1581.7" x2="1313.6" y2="1581.7" stroke="#1b981b" stroke-width="2" />
<polyline points="1323.9,1571.4 1313.6,1581.7 1323.9,1592.0" fill="none" stroke="#1b981b" stroke-width="2" stroke-linecap="butt"/>
<line x1="1609.7" y1="1722.2" x2="1621.6" y2="1722.2" stroke="#157a15" stroke-width="1.4" />
<line x1="1609.7" y1="1722.2" x2="1334.0" y2="1616.6" stroke="#157a15" stroke-width="1.4" />
<polyline points="1347.2,1612.0 1334.0,1616.6 1340.8,1628.8" fill="none" stroke="#157a15" stroke-width="1.4" stroke-linecap="butt"/>
<line x1="1609.7" y1="1722.2" x2="1374.2" y2="1737.0" stroke="#157a15" stroke-width="1.6" />
<polyline points="1384.3,1727.3 1374.2,1737.0 1385.5,1745.3" fill="none" stroke="#157a15" stroke-width="1.6" stroke-linecap="butt"/>
<line x1="1286.8" y1="1837.1" x2="1609.7" y2="1722.2" stroke="#157a15" stroke-width="1.4" />
<line x1="1286.8" y1="1837.1" x2="1282.4" y2="1762.8" stroke="#157a15" stroke-width="1.4" />
<polyline points="1292.4,1772.6 1282.4,1762.8 1273.7,1773.7" fill="none" stroke="#157a15" stroke-width="1.4" stroke-linecap="butt"/>
<line x1="1286.8" y1="1837.1" x2="1360.0" y2="1926.5" stroke="#157a15" stroke-width="1.4" />
<polyline points="1346.2,1924.4 1360.0,1926.5 1360.7,1912.5" fill="none" stroke="#157a15" stroke-width="1.4" stroke-linecap="butt"/>
<line x1="1286.8" y1="1837.1" x2="1271.9" y2="1985.7" stroke="#157a15" stroke-width="1.4" />
<polyline points="1263.6,1974.4 1271.9,1985.7 1282.3,1976.3" fill="none" stroke="#157a15" stroke-width="1.4" stroke-linecap="butt"/>
<line x1="1372.2" y1="1837.9" x2="1621.6" y2="1837.9" stroke="#1b981b" stroke-width="1.8" />
<line x1="1621.6" y1="1898.3" x2="1447.3" y2="1898.3" stroke="#157a15" stroke-width="1.2" />
<polyline points="1457.0,1889.6 1447.3,1898.3 1457.0,1907.0" fill="none" stroke="#157a15" stroke-width="1.2" stroke-linecap="butt"/>
<line x1="1621.6" y1="1953.1" x2="1559.4" y2="1953.1" stroke="#1b981b" stroke-width="1.9" />
<polyline points="1567.9,1944.6 1559.4,1953.1 1567.9,1961.6" fill="none" stroke="#1b981b" stroke-width="1.9" stroke-linecap="butt"/>
<line x1="1621.6" y1="2046.5" x2="1534.4" y2="2046.5" stroke="#1b981b" stroke-width="1.9" />
<polyline points="1544.7,2036.2 1534.4,2046.5 1544.7,2056.8" fill="none" stroke="#1b981b" stroke-width="1.9" stroke-linecap="butt"/>
<line x1="1621.6" y1="2131.5" x2="1399.7" y2="2131.5" stroke="#1b981b" stroke-width="1.9" />
<polyline points="1410.0,2121.2 1399.7,2131.5 1410.0,2141.8" fill="none" stroke="#1b981b" stroke-width="1.9" stroke-linecap="butt"/>
<line x1="720.6" y1="700.8" x2="887.3" y2="700.8" stroke="#ff7a00" stroke-width="1.5" />
<polyline points="877.4,710.7 887.3,700.8 877.4,690.9" fill="none" stroke="#ff7a00" stroke-width="1.5" stroke-linecap="butt"/>
<polyline points="769.9,1104.5 1166.7,1104.5 1178.2,1077.6" fill="none" stroke="#ff2a10" stroke-width="1.3" />
<polyline points="906.0,1352.5 926.0,1352.5 1126.7,1436.2" fill="none" stroke="#ff5c00" stroke-width="1.15" />
<polyline points="1113.8,1441.5 1126.7,1436.2 1121.4,1423.3" fill="none" stroke="#ff5c00" stroke-width="1.15" stroke-linecap="butt"/>
<polyline points="975.7,1667.7 1013.5,1667.7 1211.6,1515.9" fill="none" stroke="#ff5c00" stroke-width="1.15" />
<polyline points="1209.8,1529.8 1211.6,1515.9 1197.7,1514.1" fill="none" stroke="#ff5c00" stroke-width="1.15" stroke-linecap="butt"/>
<line x1="857.1" y1="1813.0" x2="1051.3" y2="1813.0" stroke="#ff2a10" stroke-width="1.4" />
<line x1="1051.3" y1="1813.0" x2="1266.0" y2="1601.1" stroke="#ff5c00" stroke-width="1.15" />
<polyline points="1265.9,1615.6 1266.0,1601.1 1251.5,1601.0" fill="none" stroke="#ff5c00" stroke-width="1.15" stroke-linecap="butt"/>
<line x1="1051.3" y1="1813.0" x2="1299.4" y2="1644.8" stroke="#ff5c00" stroke-width="1.15" />
<polyline points="1296.7,1659.0 1299.4,1644.8 1285.2,1642.1" fill="none" stroke="#ff5c00" stroke-width="1.15" stroke-linecap="butt"/>
<polyline points="981.8,1869.5 1051.3,1869.5 1338.9,1686.0" fill="none" stroke="#ff5c00" stroke-width="1.25" />
<polyline points="1335.8,1700.2 1338.9,1686.0 1324.7,1682.9" fill="none" stroke="#ff5c00" stroke-width="1.15" stroke-linecap="butt"/>
<text x="1198.6" y="197.5" fill="#0a650a" stroke="#0a650a" stroke-width="0.45" font-size="27.8" textLength="212.6" lengthAdjust="spacingAndGlyphs"  >SPRING HOUSE</text>
<text x="1198.6" y="319.0" fill="#0a650a" stroke="#0a650a" stroke-width="0.45" font-size="27.8" textLength="186.3" lengthAdjust="spacingAndGlyphs"  >BOG GARDEN</text>
<text x="1198.8" y="567.4" fill="#0a650a" stroke="#0a650a" stroke-width="0.45" font-size="27.8" textLength="155.9" lengthAdjust="spacingAndGlyphs"  >CULVERT &amp;</text>
<text x="1198.8" y="601.2" fill="#0a650a" stroke="#0a650a" stroke-width="0.45" font-size="27.8" textLength="170.5" lengthAdjust="spacingAndGlyphs"  >HEADWALLS</text>
<text x="1198.8" y="763.3" fill="#0a650a" stroke="#0a650a" stroke-width="0.45" font-size="27.8" textLength="271.3" lengthAdjust="spacingAndGlyphs"  >PRESUMED SITE OF</text>
<text x="1198.8" y="797.1" fill="#0a650a" stroke="#0a650a" stroke-width="0.45" font-size="27.8" textLength="338.7" lengthAdjust="spacingAndGlyphs"  >CAROLINE COPE'S POND</text>
<text x="1628.6" y="877.3" fill="#0a650a" stroke="#0a650a" stroke-width="0.45" font-size="27.8" textLength="264.9" lengthAdjust="spacingAndGlyphs"  >EXISTING CULVERT</text>
<text x="1628.6" y="911.4" fill="#0a650a" stroke="#0a650a" stroke-width="0.45" font-size="27.8" textLength="197.9" lengthAdjust="spacingAndGlyphs"  >&amp; HEADWALLS</text>
<text x="1621.5" y="1024.0" fill="#0a650a" stroke="#0a650a" stroke-width="0.45" font-size="27.8" textLength="328.6" lengthAdjust="spacingAndGlyphs"  >SYMBOLIC HEADWALL &amp;</text>
<text x="1621.5" y="1058.2" fill="#0a650a" stroke="#0a650a" stroke-width="0.45" font-size="27.8" textLength="384.6" lengthAdjust="spacingAndGlyphs"  >SPOUT (SUPPLY PRESUMED</text>
<text x="1621.5" y="1091.7" fill="#0a650a" stroke="#0a650a" stroke-width="0.45" font-size="27.8" textLength="226.9" lengthAdjust="spacingAndGlyphs"  >FROM CULVERT)</text>
<text x="1621.5" y="1170.3" fill="#0a650a" stroke="#0a650a" stroke-width="0.45" font-size="27.8" textLength="186.3" lengthAdjust="spacingAndGlyphs"  >BOG GARDEN</text>
<text x="1623.5" y="1308.0" fill="#0a650a" stroke="#0a650a" stroke-width="0.45" font-size="27.8" textLength="263.5" lengthAdjust="spacingAndGlyphs"  >NATIVE PLANTINGS</text>
<text x="1623.1" y="1539.7" fill="#0a650a" stroke="#0a650a" stroke-width="0.45" font-size="27.8" textLength="302.4" lengthAdjust="spacingAndGlyphs"  >MATURE RIVER BIRCH</text>
<text x="1623.1" y="1586.6" fill="#0a650a" stroke="#0a650a" stroke-width="0.45" font-size="27.8" textLength="357.8" lengthAdjust="spacingAndGlyphs"  >REMOVAL OF SEDIMENT &amp;</text>
<text x="1625.7" y="1619.9" fill="#0a650a" stroke="#0a650a" stroke-width="0.45" font-size="27.8" textLength="332.2" lengthAdjust="spacingAndGlyphs"  >VOLUNTEER PLANTINGS</text>
<text x="1624.0" y="1727.3" fill="#0a650a" stroke="#0a650a" stroke-width="0.45" font-size="27.8" textLength="263.1" lengthAdjust="spacingAndGlyphs"  >NATIVE PLANTINGS</text>
<text x="1623.5" y="1842.3" fill="#0a650a" stroke="#0a650a" stroke-width="0.45" font-size="27.8" textLength="124.4" lengthAdjust="spacingAndGlyphs"  >BRIDGES</text>
<text x="1623.5" y="1902.8" fill="#0a650a" stroke="#0a650a" stroke-width="0.45" font-size="27.8" textLength="139.9" lengthAdjust="spacingAndGlyphs"  >SPILLWAY</text>
<text x="1623.5" y="1957.6" fill="#0a650a" stroke="#0a650a" stroke-width="0.45" font-size="27.8" textLength="356.9" lengthAdjust="spacingAndGlyphs"  >REMOVAL OF SEDIMENT &amp;</text>
<text x="1625.7" y="1991.0" fill="#0a650a" stroke="#0a650a" stroke-width="0.45" font-size="27.8" textLength="332.8" lengthAdjust="spacingAndGlyphs"  >VOLUNTEER PLANTINGS</text>
<text x="1623.5" y="2051.6" fill="#0a650a" stroke="#0a650a" stroke-width="0.45" font-size="27.8" textLength="391.6" lengthAdjust="spacingAndGlyphs"  >RESTORATION OF MASONRY</text>
<text x="1623.5" y="2085.0" fill="#0a650a" stroke="#0a650a" stroke-width="0.45" font-size="27.8" textLength="317.0" lengthAdjust="spacingAndGlyphs"  >EDGE AT LOWER POND</text>
<text x="1623.5" y="2136.0" fill="#0a650a" stroke="#0a650a" stroke-width="0.45" font-size="27.8" textLength="139.9" lengthAdjust="spacingAndGlyphs"  >SPILLWAY</text>
<text x="556.0" y="638.7" fill="#ff2400" stroke="#ff2400" stroke-width="0.45" font-size="27.8" textLength="148.7" lengthAdjust="spacingAndGlyphs"  >BIOSWALE</text>
<text x="556.0" y="672.5" fill="#ff2400" stroke="#ff2400" stroke-width="0.45" font-size="27.8" textLength="171.0" lengthAdjust="spacingAndGlyphs"  >(PWD PRIOR</text>
<text x="556.0" y="706.7" fill="#ff2400" stroke="#ff2400" stroke-width="0.45" font-size="27.8" textLength="150.1" lengthAdjust="spacingAndGlyphs"  >INITIATIVE)</text>
<text x="556.8" y="1115.7" fill="#ff2400" stroke="#ff2400" stroke-width="0.45" font-size="27.8" textLength="197.3" lengthAdjust="spacingAndGlyphs"  >STONE WALLS</text>
<text x="553.7" y="1260.0" fill="#ff2400" stroke="#ff2400" stroke-width="0.45" font-size="27.8" textLength="300.4" lengthAdjust="spacingAndGlyphs"  >INFILTRATION SWALE:</text>
<text x="555.9" y="1294.7" fill="#ff2400" stroke="#ff2400" stroke-width="0.45" font-size="27.8" textLength="197.7" lengthAdjust="spacingAndGlyphs"  >-MULCH &amp; FILL</text>
<text x="555.9" y="1328.5" fill="#ff2400" stroke="#ff2400" stroke-width="0.45" font-size="27.8" textLength="427.6" lengthAdjust="spacingAndGlyphs"  >-DENSE UNDERSTORY SHRUBS</text>
<text x="555.9" y="1362.3" fill="#ff2400" stroke="#ff2400" stroke-width="0.45" font-size="27.8" textLength="328.0" lengthAdjust="spacingAndGlyphs"  >-SIMULATED 'DEADFALL'</text>
<text x="553.7" y="1461.0" fill="#ff2400" stroke="#ff2400" stroke-width="0.45" font-size="27.8" textLength="153.2" lengthAdjust="spacingAndGlyphs"  >HEADWALL</text>
<text x="552.8" y="1541.4" fill="#ff2400" stroke="#ff2400" stroke-width="0.45" font-size="27.8" textLength="280.8" lengthAdjust="spacingAndGlyphs"  >VEGETATED SWALE:</text>
<text x="552.8" y="1574.8" fill="#ff2400" stroke="#ff2400" stroke-width="0.45" font-size="27.8" textLength="281.7" lengthAdjust="spacingAndGlyphs"  >-EXCAVATED SWALE</text>
<text x="552.8" y="1608.6" fill="#ff2400" stroke="#ff2400" stroke-width="0.45" font-size="27.8" textLength="237.7" lengthAdjust="spacingAndGlyphs"  >-BOULDER 'SILLS'</text>
<text x="552.8" y="1642.4" fill="#ff2400" stroke="#ff2400" stroke-width="0.45" font-size="27.8" textLength="246.2" lengthAdjust="spacingAndGlyphs"  >-RIP-RAP APRONS</text>
<text x="552.8" y="1676.1" fill="#ff2400" stroke="#ff2400" stroke-width="0.45" font-size="27.8" textLength="399.1" lengthAdjust="spacingAndGlyphs"  >-DENSE PLANTING &amp; SHRUBS</text>
<text x="547.6" y="1747.6" fill="#ff2400" stroke="#ff2400" stroke-width="0.45" font-size="27.8" textLength="218.8" lengthAdjust="spacingAndGlyphs"  >-UPPER POND &amp;</text>
<text x="556.7" y="1781.0" fill="#ff2400" stroke="#ff2400" stroke-width="0.45" font-size="27.8" textLength="368.0" lengthAdjust="spacingAndGlyphs"  >STREAMBED EDGE REPAIR</text>
<text x="556.7" y="1814.8" fill="#0a650a" stroke="#0a650a" stroke-width="0.45" font-size="27.8" textLength="263.3" lengthAdjust="spacingAndGlyphs"  >OR RESTORATION?</text>
<text x="549.8" y="1878.4" fill="#ff2400" stroke="#ff2400" stroke-width="0.45" font-size="27.8" textLength="408.6" lengthAdjust="spacingAndGlyphs"  >FLOODPLAIN &quot;RESTORATION&quot;:</text>
<text x="551.1" y="1912.1" fill="#ff2400" stroke="#ff2400" stroke-width="0.45" font-size="27.8" textLength="187.4" lengthAdjust="spacingAndGlyphs"  >-EXCAVATION</text>
<text x="551.1" y="1945.5" fill="#ff2400" stroke="#ff2400" stroke-width="0.45" font-size="27.8" textLength="148.1" lengthAdjust="spacingAndGlyphs"  >-PLANTING</text>
<line x1="557.0" y1="645.4" x2="703.2" y2="645.4" stroke="#ff2a10" stroke-width="1.3" />
<line x1="554.3" y1="1267.6" x2="859.3" y2="1267.6" stroke="#ff7a00" stroke-width="1.5" />
<line x1="554.3" y1="1467.6" x2="709.0" y2="1467.6" stroke="#ff7a00" stroke-width="1.5" />
<line x1="554.3" y1="1546.9" x2="837.0" y2="1546.9" stroke="#ff7a00" stroke-width="1.5" />
<line x1="550.4" y1="1884.3" x2="964.8" y2="1884.3" stroke="#ff2a10" stroke-width="1.3" />
<text transform="translate(487.6,1517.0) rotate(-90)" fill="#ff1a00" stroke="#ff1a00" stroke-width="2.4" stroke-linejoin="round" font-size="43" font-style="italic" font-weight="bold" textLength="370.0" lengthAdjust="spacing">PWD PROPOSED</text>
<text transform="translate(2104.0,1571.5) rotate(-90)" fill="#0c5a00" stroke="#0c5a00" stroke-width="2.4" stroke-linejoin="round" font-size="43" font-style="italic" font-weight="bold" textLength="501.0" lengthAdjust="spacing">OVERLOOKED ISSUES</text>
</svg></body></html>
